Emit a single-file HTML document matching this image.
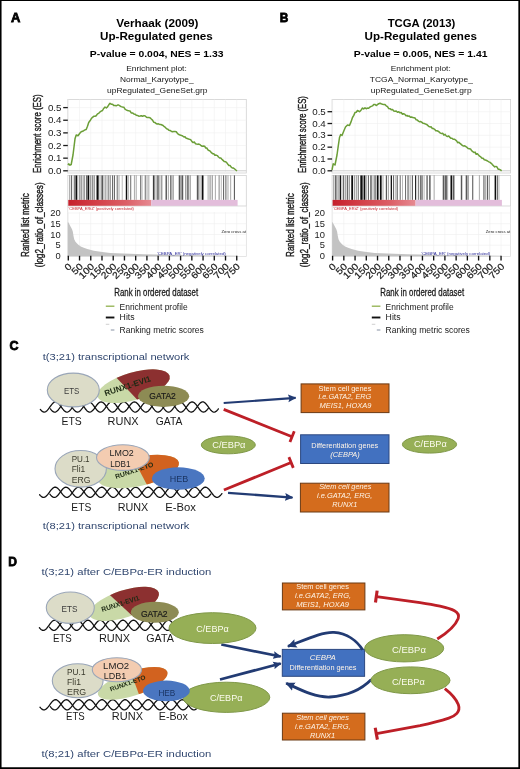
<!DOCTYPE html>
<html><head><meta charset="utf-8"><title>Figure</title>
<style>html,body{margin:0;padding:0;background:#fff}svg{display:block}text{font-family:'Liberation Sans', Arial, Helvetica, sans-serif}</style></head><body>
<svg width="520" height="769" viewBox="0 0 520 769">
<rect x="0" y="0" width="520" height="769" fill="#fff"/>
<text x="0.00" y="0.00" font-size="13.5" font-weight="bold" font-style="normal" text-anchor="start" fill="#000" transform="translate(10.90,21.70) scale(0.9642,1)" stroke="#000" stroke-width="0.8">A</text>
<text x="0.00" y="0.00" font-size="11.5" font-weight="bold" font-style="normal" text-anchor="start" fill="#000" transform="translate(116.30,26.90) scale(1.0204,1)">Verhaak (2009)</text>
<text x="0.00" y="0.00" font-size="11.5" font-weight="bold" font-style="normal" text-anchor="start" fill="#000" transform="translate(100.00,39.80) scale(1.0163,1)">Up-Regulated genes</text>
<text x="0.00" y="0.00" font-size="9.9" font-weight="bold" font-style="normal" text-anchor="start" fill="#000" transform="translate(89.80,56.80) scale(1.0487,1)">P-value = 0.004, NES = 1.33</text>
<text x="0.00" y="0.00" font-size="8.0" font-weight="normal" font-style="normal" text-anchor="start" fill="#151515" transform="translate(126.20,70.60) scale(1.0484,1)">Enrichment plot:</text>
<text x="0.00" y="0.00" font-size="8.0" font-weight="normal" font-style="normal" text-anchor="start" fill="#151515" transform="translate(120.00,81.80) scale(1.0439,1)">Normal_Karyotype_</text>
<text x="0.00" y="0.00" font-size="8.0" font-weight="normal" font-style="normal" text-anchor="start" fill="#151515" transform="translate(107.00,92.50) scale(1.0579,1)">upRegulated_GeneSet.grp</text>
<rect x="67.8" y="99.5" width="178.5" height="73.5" fill="#fff" stroke="#d2d2d2" stroke-width="0.8"/>
<path d="M67.8,158.16H246.3 M67.8,145.52H246.3 M67.8,132.88H246.3 M67.8,120.24H246.3 M67.8,107.60H246.3 M68.30,99.5V173 M79.53,99.5V173 M90.76,99.5V173 M101.99,99.5V173 M113.22,99.5V173 M124.45,99.5V173 M135.68,99.5V173 M146.91,99.5V173 M158.14,99.5V173 M169.37,99.5V173 M180.60,99.5V173 M191.83,99.5V173 M203.06,99.5V173 M214.29,99.5V173 M225.52,99.5V173 M236.75,99.5V173" stroke="#f0f0f0" stroke-width="0.6" fill="none"/>
<path d="M67.8,170.8H246.3" stroke="#c8c8c8" stroke-width="0.9" fill="none"/>
<path d="M63.199999999999996,170.80H67.8" stroke="#1a1a1a" stroke-width="1.3"/>
<text x="0.00" y="0.00" font-size="8.7" font-weight="normal" font-style="normal" text-anchor="start" fill="#1a1a1a" transform="translate(47.90,173.90) scale(1.1245,1)">0.0</text>
<path d="M63.199999999999996,158.16H67.8" stroke="#1a1a1a" stroke-width="1.3"/>
<text x="0.00" y="0.00" font-size="8.7" font-weight="normal" font-style="normal" text-anchor="start" fill="#1a1a1a" transform="translate(47.90,161.26) scale(1.1245,1)">0.1</text>
<path d="M63.199999999999996,145.52H67.8" stroke="#1a1a1a" stroke-width="1.3"/>
<text x="0.00" y="0.00" font-size="8.7" font-weight="normal" font-style="normal" text-anchor="start" fill="#1a1a1a" transform="translate(47.90,148.62) scale(1.1245,1)">0.2</text>
<path d="M63.199999999999996,132.88H67.8" stroke="#1a1a1a" stroke-width="1.3"/>
<text x="0.00" y="0.00" font-size="8.7" font-weight="normal" font-style="normal" text-anchor="start" fill="#1a1a1a" transform="translate(47.90,135.98) scale(1.1245,1)">0.3</text>
<path d="M63.199999999999996,120.24H67.8" stroke="#1a1a1a" stroke-width="1.3"/>
<text x="0.00" y="0.00" font-size="8.7" font-weight="normal" font-style="normal" text-anchor="start" fill="#1a1a1a" transform="translate(47.90,123.34) scale(1.1245,1)">0.4</text>
<path d="M63.199999999999996,107.60H67.8" stroke="#1a1a1a" stroke-width="1.3"/>
<text x="0.00" y="0.00" font-size="8.7" font-weight="normal" font-style="normal" text-anchor="start" fill="#1a1a1a" transform="translate(47.90,110.70) scale(1.1245,1)">0.5</text>
<text x="0.00" y="0.00" font-size="10.8" font-weight="normal" font-style="normal" text-anchor="start" fill="#1a1a1a" transform="translate(41.30,172.90) rotate(-90) scale(0.7235,1)" stroke="#1a1a1a" stroke-width="0.4">Enrichment score (ES)</text>
<path d="M68.0,165.0 L68.7,163.8 L70.0,165.2 L71.2,164.5 L73.0,155.0 L75.0,138.8 L76.2,135.0 L78.0,135.8 L80.0,133.0 L81.2,131.7 L82.5,131.2 L83.7,130.7 L85.0,129.9 L86.2,129.5 L87.5,126.2 L88.7,122.5 L90.0,120.8 L91.2,118.8 L92.5,117.3 L93.7,116.3 L95.0,116.2 L96.2,115.7 L97.5,113.9 L98.7,113.3 L100.0,111.9 L101.2,111.2 L102.5,110.5 L103.7,108.4 L105.0,107.0 L106.3,108.0 L107.5,106.9 L108.8,104.8 L110.0,103.3 L111.2,104.2 L112.5,104.2 L113.7,105.4 L115.0,105.5 L116.2,105.8 L117.5,105.1 L118.7,105.0 L120.0,106.0 L121.2,106.6 L122.5,107.0 L123.8,107.2 L125.0,109.1 L126.2,109.8 L127.5,110.5 L128.8,110.8 L130.0,111.0 L131.2,112.9 L132.5,112.9 L133.8,113.9 L135.0,114.2 L136.2,115.2 L137.5,115.4 L138.8,116.2 L140.0,116.0 L141.3,115.7 L142.7,116.2 L144.0,115.6 L145.2,116.0 L146.5,117.2 L147.8,117.6 L149.0,117.5 L150.2,117.9 L151.3,119.0 L152.5,120.1 L153.7,122.2 L154.8,122.4 L156.0,123.5 L157.2,124.0 L158.4,123.8 L159.6,124.4 L160.8,124.5 L162.0,125.0 L163.1,125.5 L164.3,126.7 L165.4,127.4 L166.6,128.7 L167.7,129.1 L168.9,130.3 L170.0,130.4 L171.2,131.2 L172.5,131.7 L173.8,131.6 L175.0,131.6 L176.3,131.8 L177.6,133.6 L178.8,134.5 L180.1,135.1 L181.4,135.4 L182.7,136.0 L183.9,136.9 L185.0,136.8 L186.2,138.3 L187.3,138.5 L188.5,139.0 L189.7,139.4 L190.8,139.8 L192.0,141.7 L193.1,142.6 L194.3,142.0 L195.4,143.7 L196.6,144.0 L197.8,144.2 L198.9,144.1 L200.1,144.7 L201.2,145.7 L202.3,146.2 L203.5,146.0 L204.6,146.2 L205.7,148.0 L206.8,148.0 L207.9,149.9 L209.0,150.5 L210.2,151.1 L211.4,152.7 L212.6,153.7 L213.8,153.8 L214.9,155.3 L216.1,155.1 L217.3,155.6 L218.5,157.0 L219.7,158.0 L220.8,158.0 L221.9,159.2 L223.1,160.4 L224.2,161.5 L225.4,161.7 L226.5,162.4 L227.7,164.0 L228.9,165.4 L230.0,165.4 L231.2,167.2 L232.3,168.0 L233.5,168.1 L234.7,169.0 L235.8,170.0 L237.0,170.8" stroke="#6b9e37" stroke-width="1.5" fill="none" stroke-linejoin="round"/>
<rect x="67.8" y="175.4" width="178.5" height="30.69999999999999" fill="#fff" stroke="#d2d2d2" stroke-width="0.8"/>
<rect x="69.18" y="175.4" width="1.08" height="24.50" fill="#000" opacity="0.38"/>
<rect x="70.99" y="175.4" width="0.90" height="24.50" fill="#000" opacity="0.65"/>
<rect x="72.80" y="175.4" width="0.54" height="24.50" fill="#000" opacity="0.38"/>
<rect x="74.25" y="175.4" width="0.90" height="24.50" fill="#000" opacity="0.65"/>
<rect x="75.51" y="175.4" width="1.81" height="24.50" fill="#000" opacity="0.95"/>
<rect x="78.77" y="175.4" width="1.81" height="24.50" fill="#000" opacity="0.38"/>
<rect x="80.94" y="175.4" width="1.45" height="24.50" fill="#000" opacity="0.38"/>
<rect x="83.29" y="175.4" width="1.81" height="24.50" fill="#000" opacity="0.38"/>
<rect x="86.00" y="175.4" width="0.90" height="24.50" fill="#000" opacity="0.65"/>
<rect x="87.45" y="175.4" width="1.81" height="24.50" fill="#000" opacity="0.95"/>
<rect x="89.98" y="175.4" width="1.45" height="24.50" fill="#000" opacity="0.38"/>
<rect x="92.33" y="175.4" width="0.90" height="24.50" fill="#000" opacity="0.65"/>
<rect x="93.78" y="175.4" width="1.27" height="24.50" fill="#000" opacity="0.38"/>
<rect x="96.49" y="175.4" width="2.17" height="24.50" fill="#000" opacity="0.95"/>
<rect x="99.56" y="175.4" width="0.90" height="24.50" fill="#000" opacity="0.38"/>
<rect x="101.37" y="175.4" width="1.81" height="24.50" fill="#000" opacity="0.65"/>
<rect x="103.72" y="175.4" width="0.72" height="24.50" fill="#000" opacity="0.38"/>
<rect x="105.53" y="175.4" width="0.72" height="24.50" fill="#000" opacity="0.65"/>
<rect x="107.70" y="175.4" width="0.90" height="24.50" fill="#000" opacity="0.65"/>
<rect x="109.51" y="175.4" width="1.45" height="24.50" fill="#000" opacity="0.38"/>
<rect x="112.40" y="175.4" width="0.72" height="24.50" fill="#000" opacity="0.95"/>
<rect x="114.03" y="175.4" width="0.90" height="24.50" fill="#000" opacity="0.65"/>
<rect x="116.74" y="175.4" width="0.90" height="24.50" fill="#000" opacity="0.65"/>
<rect x="118.55" y="175.4" width="0.90" height="24.50" fill="#000" opacity="0.38"/>
<rect x="121.80" y="175.4" width="0.72" height="24.50" fill="#000" opacity="0.38"/>
<rect x="125.78" y="175.4" width="1.45" height="24.50" fill="#000" opacity="0.95"/>
<rect x="127.95" y="175.4" width="0.72" height="24.50" fill="#000" opacity="0.38"/>
<rect x="130.30" y="175.4" width="0.90" height="24.50" fill="#000" opacity="0.65"/>
<rect x="133.92" y="175.4" width="0.90" height="24.50" fill="#000" opacity="0.38"/>
<rect x="135.73" y="175.4" width="0.90" height="24.50" fill="#000" opacity="0.38"/>
<rect x="140.25" y="175.4" width="0.90" height="24.50" fill="#000" opacity="0.65"/>
<rect x="141.70" y="175.4" width="0.72" height="24.50" fill="#000" opacity="0.38"/>
<rect x="144.77" y="175.4" width="0.90" height="24.50" fill="#000" opacity="0.65"/>
<rect x="146.58" y="175.4" width="0.90" height="24.50" fill="#000" opacity="0.38"/>
<rect x="148.39" y="175.4" width="0.90" height="24.50" fill="#000" opacity="0.38"/>
<rect x="152.91" y="175.4" width="0.90" height="24.50" fill="#000" opacity="0.95"/>
<rect x="154.35" y="175.4" width="0.90" height="24.50" fill="#000" opacity="0.65"/>
<rect x="156.89" y="175.4" width="1.08" height="24.50" fill="#000" opacity="0.38"/>
<rect x="156.47" y="175.4" width="1.08" height="24.50" fill="#000" opacity="0.38"/>
<rect x="158.28" y="175.4" width="1.08" height="24.50" fill="#000" opacity="0.65"/>
<rect x="160.63" y="175.4" width="1.81" height="24.50" fill="#000" opacity="0.38"/>
<rect x="165.51" y="175.4" width="1.45" height="24.50" fill="#000" opacity="0.65"/>
<rect x="167.86" y="175.4" width="0.90" height="24.50" fill="#000" opacity="0.38"/>
<rect x="170.21" y="175.4" width="1.27" height="24.50" fill="#000" opacity="0.65"/>
<rect x="172.38" y="175.4" width="1.45" height="24.50" fill="#000" opacity="0.38"/>
<rect x="178.71" y="175.4" width="1.81" height="24.50" fill="#000" opacity="0.65"/>
<rect x="181.42" y="175.4" width="1.81" height="24.50" fill="#000" opacity="0.65"/>
<rect x="185.04" y="175.4" width="1.45" height="24.50" fill="#000" opacity="0.38"/>
<rect x="187.21" y="175.4" width="1.45" height="24.50" fill="#000" opacity="0.65"/>
<rect x="189.56" y="175.4" width="1.27" height="24.50" fill="#000" opacity="0.38"/>
<rect x="196.80" y="175.4" width="1.81" height="24.50" fill="#000" opacity="0.65"/>
<rect x="199.51" y="175.4" width="0.90" height="24.50" fill="#000" opacity="0.38"/>
<rect x="201.68" y="175.4" width="1.81" height="24.50" fill="#000" opacity="0.95"/>
<rect x="207.65" y="175.4" width="0.90" height="24.50" fill="#000" opacity="0.38"/>
<rect x="209.45" y="175.4" width="1.27" height="24.50" fill="#000" opacity="0.38"/>
<rect x="211.80" y="175.4" width="0.72" height="24.50" fill="#000" opacity="0.65"/>
<rect x="214.88" y="175.4" width="0.90" height="24.50" fill="#000" opacity="0.38"/>
<rect x="218.50" y="175.4" width="1.27" height="24.50" fill="#000" opacity="0.38"/>
<rect x="220.85" y="175.4" width="0.72" height="24.50" fill="#000" opacity="0.38"/>
<rect x="223.02" y="175.4" width="0.90" height="24.50" fill="#000" opacity="0.65"/>
<rect x="224.82" y="175.4" width="1.81" height="24.50" fill="#000" opacity="0.38"/>
<rect x="227.54" y="175.4" width="0.90" height="24.50" fill="#000" opacity="0.38"/>
<rect x="230.25" y="175.4" width="0.90" height="24.50" fill="#000" opacity="0.38"/>
<rect x="233.87" y="175.4" width="1.08" height="24.50" fill="#000" opacity="0.65"/>
<defs><linearGradient id="rgA" x1="0" x2="1" y1="0" y2="0"><stop offset="0" stop-color="#c51f2b"/><stop offset="0.3" stop-color="#d23c45"/><stop offset="0.7" stop-color="#dc5f67"/><stop offset="1" stop-color="#e68a92"/></linearGradient></defs>
<rect x="68.3" y="199.9" width="83" height="6.2" fill="url(#rgA)"/>
<rect x="151.3" y="199.9" width="86.3" height="6.2" fill="#e3bddb"/>
<rect x="67.8" y="206.1" width="178.5" height="50.50000000000003" fill="#fff" stroke="#dadada" stroke-width="0.7"/>
<path d="M67.8,245.25H246.3 M67.8,234.50H246.3 M67.8,223.75H246.3 M67.8,213.00H246.3 M68.30,212.1V256.6 M79.53,212.1V256.6 M90.76,212.1V256.6 M101.99,212.1V256.6 M113.22,212.1V256.6 M124.45,212.1V256.6 M135.68,212.1V256.6 M146.91,212.1V256.6 M158.14,212.1V256.6 M169.37,212.1V256.6 M180.60,212.1V256.6 M191.83,212.1V256.6 M203.06,212.1V256.6 M214.29,212.1V256.6 M225.52,212.1V256.6 M236.75,212.1V256.6" stroke="#eeeeee" stroke-width="0.6" fill="none"/>
<text x="0.00" y="0.00" font-size="3.9" font-weight="normal" font-style="normal" text-anchor="start" fill="#c4202a" transform="translate(68.60,210.40) scale(1.028,1)">'CEBPA_ERtZ' (positively correlated)</text>
<path d="M67.8,256.3 L67.8,222.2 L68.3,222.2 L69.5,224.5 L70.8,226.9 L71.9,229.0 L72.8,231.5 L73.5,236.0 L74.2,239.3 L75.3,241.4 L76.8,243.2 L78.3,244.8 L80.8,246.5 L83.8,247.8 L87.3,249.1 L93.8,250.8 L102.3,252.1 L110.3,252.9 L123.3,253.6 L143.3,254.3 L168.3,254.8 L198.3,255.3 L236.8,255.8 L236.8,256.3 Z" fill="#c3c3c3"/>
<text x="0.00" y="0.00" font-size="8.7" font-weight="normal" font-style="normal" text-anchor="start" fill="#1a1a1a" transform="translate(55.50,259.10) scale(1.0747,1)">0</text>
<text x="0.00" y="0.00" font-size="8.7" font-weight="normal" font-style="normal" text-anchor="start" fill="#1a1a1a" transform="translate(55.50,248.35) scale(1.0747,1)">5</text>
<text x="0.00" y="0.00" font-size="8.7" font-weight="normal" font-style="normal" text-anchor="start" fill="#1a1a1a" transform="translate(50.30,237.60) scale(1.0747,1)">10</text>
<text x="0.00" y="0.00" font-size="8.7" font-weight="normal" font-style="normal" text-anchor="start" fill="#1a1a1a" transform="translate(50.30,226.85) scale(1.0747,1)">15</text>
<text x="0.00" y="0.00" font-size="8.7" font-weight="normal" font-style="normal" text-anchor="start" fill="#1a1a1a" transform="translate(50.30,216.10) scale(1.0747,1)">20</text>
<text x="0.00" y="0.00" font-size="3.7" font-weight="normal" font-style="normal" text-anchor="start" fill="#222" transform="translate(221.50,232.60) scale(1.1348,1)">Zero cross at</text>
<text x="0.00" y="0.00" font-size="3.9" font-weight="normal" font-style="normal" text-anchor="start" fill="#2a2a9a" transform="translate(157.00,255.20) scale(1.1187,1)">'CEBPA_ER' (negatively correlated)</text>
<path d="M68.30,255.8V260.5" stroke="#111" stroke-width="1.35"/>
<text x="0.00" y="0.00" font-size="9.3" font-weight="normal" font-style="normal" text-anchor="end" fill="#1a1a1a" transform="translate(72.30,267.00) rotate(-45) scale(1.13,1)" stroke="#1a1a1a" stroke-width="0.2">0</text>
<path d="M79.53,255.8V260.5" stroke="#111" stroke-width="1.35"/>
<text x="0.00" y="0.00" font-size="9.3" font-weight="normal" font-style="normal" text-anchor="end" fill="#1a1a1a" transform="translate(83.53,267.00) rotate(-45) scale(1.13,1)" stroke="#1a1a1a" stroke-width="0.2">50</text>
<path d="M90.76,255.8V260.5" stroke="#111" stroke-width="1.35"/>
<text x="0.00" y="0.00" font-size="9.3" font-weight="normal" font-style="normal" text-anchor="end" fill="#1a1a1a" transform="translate(94.76,267.00) rotate(-45) scale(1.13,1)" stroke="#1a1a1a" stroke-width="0.2">100</text>
<path d="M101.99,255.8V260.5" stroke="#111" stroke-width="1.35"/>
<text x="0.00" y="0.00" font-size="9.3" font-weight="normal" font-style="normal" text-anchor="end" fill="#1a1a1a" transform="translate(105.99,267.00) rotate(-45) scale(1.13,1)" stroke="#1a1a1a" stroke-width="0.2">150</text>
<path d="M113.22,255.8V260.5" stroke="#111" stroke-width="1.35"/>
<text x="0.00" y="0.00" font-size="9.3" font-weight="normal" font-style="normal" text-anchor="end" fill="#1a1a1a" transform="translate(117.22,267.00) rotate(-45) scale(1.13,1)" stroke="#1a1a1a" stroke-width="0.2">200</text>
<path d="M124.45,255.8V260.5" stroke="#111" stroke-width="1.35"/>
<text x="0.00" y="0.00" font-size="9.3" font-weight="normal" font-style="normal" text-anchor="end" fill="#1a1a1a" transform="translate(128.45,267.00) rotate(-45) scale(1.13,1)" stroke="#1a1a1a" stroke-width="0.2">250</text>
<path d="M135.68,255.8V260.5" stroke="#111" stroke-width="1.35"/>
<text x="0.00" y="0.00" font-size="9.3" font-weight="normal" font-style="normal" text-anchor="end" fill="#1a1a1a" transform="translate(139.68,267.00) rotate(-45) scale(1.13,1)" stroke="#1a1a1a" stroke-width="0.2">300</text>
<path d="M146.91,255.8V260.5" stroke="#111" stroke-width="1.35"/>
<text x="0.00" y="0.00" font-size="9.3" font-weight="normal" font-style="normal" text-anchor="end" fill="#1a1a1a" transform="translate(150.91,267.00) rotate(-45) scale(1.13,1)" stroke="#1a1a1a" stroke-width="0.2">350</text>
<path d="M158.14,255.8V260.5" stroke="#111" stroke-width="1.35"/>
<text x="0.00" y="0.00" font-size="9.3" font-weight="normal" font-style="normal" text-anchor="end" fill="#1a1a1a" transform="translate(162.14,267.00) rotate(-45) scale(1.13,1)" stroke="#1a1a1a" stroke-width="0.2">400</text>
<path d="M169.37,255.8V260.5" stroke="#111" stroke-width="1.35"/>
<text x="0.00" y="0.00" font-size="9.3" font-weight="normal" font-style="normal" text-anchor="end" fill="#1a1a1a" transform="translate(173.37,267.00) rotate(-45) scale(1.13,1)" stroke="#1a1a1a" stroke-width="0.2">450</text>
<path d="M180.60,255.8V260.5" stroke="#111" stroke-width="1.35"/>
<text x="0.00" y="0.00" font-size="9.3" font-weight="normal" font-style="normal" text-anchor="end" fill="#1a1a1a" transform="translate(184.60,267.00) rotate(-45) scale(1.13,1)" stroke="#1a1a1a" stroke-width="0.2">500</text>
<path d="M191.83,255.8V260.5" stroke="#111" stroke-width="1.35"/>
<text x="0.00" y="0.00" font-size="9.3" font-weight="normal" font-style="normal" text-anchor="end" fill="#1a1a1a" transform="translate(195.83,267.00) rotate(-45) scale(1.13,1)" stroke="#1a1a1a" stroke-width="0.2">550</text>
<path d="M203.06,255.8V260.5" stroke="#111" stroke-width="1.35"/>
<text x="0.00" y="0.00" font-size="9.3" font-weight="normal" font-style="normal" text-anchor="end" fill="#1a1a1a" transform="translate(207.06,267.00) rotate(-45) scale(1.13,1)" stroke="#1a1a1a" stroke-width="0.2">600</text>
<path d="M214.29,255.8V260.5" stroke="#111" stroke-width="1.35"/>
<text x="0.00" y="0.00" font-size="9.3" font-weight="normal" font-style="normal" text-anchor="end" fill="#1a1a1a" transform="translate(218.29,267.00) rotate(-45) scale(1.13,1)" stroke="#1a1a1a" stroke-width="0.2">650</text>
<path d="M225.52,255.8V260.5" stroke="#111" stroke-width="1.35"/>
<text x="0.00" y="0.00" font-size="9.3" font-weight="normal" font-style="normal" text-anchor="end" fill="#1a1a1a" transform="translate(229.52,267.00) rotate(-45) scale(1.13,1)" stroke="#1a1a1a" stroke-width="0.2">700</text>
<path d="M236.75,255.8V260.5" stroke="#111" stroke-width="1.35"/>
<text x="0.00" y="0.00" font-size="9.3" font-weight="normal" font-style="normal" text-anchor="end" fill="#1a1a1a" transform="translate(240.75,267.00) rotate(-45) scale(1.13,1)" stroke="#1a1a1a" stroke-width="0.2">750</text>
<text x="0.00" y="0.00" font-size="10.6" font-weight="normal" font-style="normal" text-anchor="start" fill="#1a1a1a" transform="translate(29.40,256.90) rotate(-90) scale(0.7562,1)" stroke="#1a1a1a" stroke-width="0.4">Ranked list metric</text>
<text x="0.00" y="0.00" font-size="10.6" font-weight="normal" font-style="normal" text-anchor="start" fill="#1a1a1a" transform="translate(43.30,267.30) rotate(-90) scale(0.7765,1)" stroke="#1a1a1a" stroke-width="0.4">(log2_ratio_of_classes)</text>
<text x="0.00" y="0.00" font-size="10.4" font-weight="normal" font-style="normal" text-anchor="start" fill="#1a1a1a" transform="translate(114.30,295.70) scale(0.7558,1)" stroke="#1a1a1a" stroke-width="0.28">Rank in ordered dataset</text>
<path d="M105.8,306.2h8.6" stroke="#90b04c" stroke-width="1.3"/>
<text x="0.00" y="0.00" font-size="8.6" font-weight="normal" font-style="normal" text-anchor="start" fill="#1a1a1a" transform="translate(119.60,309.50) scale(0.984,1)">Enrichment profile</text>
<path d="M105.8,317.5h8.6" stroke="#111" stroke-width="1.9"/>
<text x="0.00" y="0.00" font-size="8.6" font-weight="normal" font-style="normal" text-anchor="start" fill="#1a1a1a" transform="translate(119.60,319.90) scale(1.0128,1)">Hits</text>
<path d="M105.8,324.3h3.5" stroke="#c4c4c4" stroke-width="0.8"/>
<path d="M110.8,330.0h3.6" stroke="#8792a4" stroke-width="1.0"/>
<text x="0.00" y="0.00" font-size="8.6" font-weight="normal" font-style="normal" text-anchor="start" fill="#1a1a1a" transform="translate(119.60,333.00) scale(0.9921,1)">Ranking metric scores</text>
<text x="0.00" y="0.00" font-size="13.5" font-weight="bold" font-style="normal" text-anchor="start" fill="#000" transform="translate(279.80,21.70) scale(0.8821,1)" stroke="#000" stroke-width="0.8">B</text>
<text x="0.00" y="0.00" font-size="11.5" font-weight="bold" font-style="normal" text-anchor="start" fill="#000" transform="translate(387.70,26.90) scale(0.987,1)">TCGA (2013)</text>
<text x="0.00" y="0.00" font-size="11.5" font-weight="bold" font-style="normal" text-anchor="start" fill="#000" transform="translate(364.60,39.80) scale(1.011,1)">Up-Regulated genes</text>
<text x="0.00" y="0.00" font-size="9.9" font-weight="bold" font-style="normal" text-anchor="start" fill="#000" transform="translate(353.80,56.80) scale(1.0487,1)">P-value = 0.005, NES = 1.41</text>
<text x="0.00" y="0.00" font-size="8.0" font-weight="normal" font-style="normal" text-anchor="start" fill="#151515" transform="translate(390.80,70.60) scale(1.038,1)">Enrichment plot:</text>
<text x="0.00" y="0.00" font-size="8.0" font-weight="normal" font-style="normal" text-anchor="start" fill="#151515" transform="translate(369.80,81.80) scale(1.0599,1)">TCGA_Normal_Karyotype_</text>
<text x="0.00" y="0.00" font-size="8.0" font-weight="normal" font-style="normal" text-anchor="start" fill="#151515" transform="translate(370.80,92.50) scale(1.0601,1)">upRegulated_GeneSet.grp</text>
<rect x="332.1" y="99.5" width="178.5" height="73.5" fill="#fff" stroke="#d2d2d2" stroke-width="0.8"/>
<path d="M332.1,158.98H510.6 M332.1,147.16H510.6 M332.1,135.34H510.6 M332.1,123.52H510.6 M332.1,111.70H510.6 M332.60,99.5V173 M343.83,99.5V173 M355.06,99.5V173 M366.29,99.5V173 M377.52,99.5V173 M388.75,99.5V173 M399.98,99.5V173 M411.21,99.5V173 M422.44,99.5V173 M433.67,99.5V173 M444.90,99.5V173 M456.13,99.5V173 M467.36,99.5V173 M478.59,99.5V173 M489.82,99.5V173 M501.05,99.5V173" stroke="#f0f0f0" stroke-width="0.6" fill="none"/>
<path d="M332.1,170.8H510.6" stroke="#c8c8c8" stroke-width="0.9" fill="none"/>
<path d="M327.5,170.80H332.1" stroke="#1a1a1a" stroke-width="1.3"/>
<text x="0.00" y="0.00" font-size="8.7" font-weight="normal" font-style="normal" text-anchor="start" fill="#1a1a1a" transform="translate(312.20,173.90) scale(1.1245,1)">0.0</text>
<path d="M327.5,158.98H332.1" stroke="#1a1a1a" stroke-width="1.3"/>
<text x="0.00" y="0.00" font-size="8.7" font-weight="normal" font-style="normal" text-anchor="start" fill="#1a1a1a" transform="translate(312.20,162.08) scale(1.1245,1)">0.1</text>
<path d="M327.5,147.16H332.1" stroke="#1a1a1a" stroke-width="1.3"/>
<text x="0.00" y="0.00" font-size="8.7" font-weight="normal" font-style="normal" text-anchor="start" fill="#1a1a1a" transform="translate(312.20,150.26) scale(1.1245,1)">0.2</text>
<path d="M327.5,135.34H332.1" stroke="#1a1a1a" stroke-width="1.3"/>
<text x="0.00" y="0.00" font-size="8.7" font-weight="normal" font-style="normal" text-anchor="start" fill="#1a1a1a" transform="translate(312.20,138.44) scale(1.1245,1)">0.3</text>
<path d="M327.5,123.52H332.1" stroke="#1a1a1a" stroke-width="1.3"/>
<text x="0.00" y="0.00" font-size="8.7" font-weight="normal" font-style="normal" text-anchor="start" fill="#1a1a1a" transform="translate(312.20,126.62) scale(1.1245,1)">0.4</text>
<path d="M327.5,111.70H332.1" stroke="#1a1a1a" stroke-width="1.3"/>
<text x="0.00" y="0.00" font-size="8.7" font-weight="normal" font-style="normal" text-anchor="start" fill="#1a1a1a" transform="translate(312.20,114.80) scale(1.1245,1)">0.5</text>
<text x="0.00" y="0.00" font-size="10.8" font-weight="normal" font-style="normal" text-anchor="start" fill="#1a1a1a" transform="translate(305.60,172.90) rotate(-90) scale(0.707,1)" stroke="#1a1a1a" stroke-width="0.4">Enrichment score (ES)</text>
<path d="M332.0,170.0 L333.2,163.8 L335.0,165.0 L337.0,155.0 L338.2,146.4 L339.5,137.5 L340.7,134.5 L342.0,135.5 L343.7,131.2 L345.5,127.0 L347.5,125.0 L349.5,125.5 L351.0,121.9 L352.5,117.5 L353.8,115.4 L355.0,112.5 L356.2,112.2 L357.5,110.5 L359.5,111.7 L361.0,110.2 L362.5,108.0 L363.7,108.9 L365.0,107.8 L366.2,108.7 L367.5,108.1 L368.7,108.2 L370.0,107.0 L371.2,106.4 L372.5,105.9 L373.7,104.5 L374.9,104.4 L376.2,105.5 L377.5,104.7 L378.7,103.7 L380.0,103.3 L381.2,103.8 L382.5,104.2 L383.7,104.5 L385.0,104.6 L386.2,105.8 L387.5,106.7 L388.7,108.5 L390.0,108.7 L391.2,109.7 L392.5,109.4 L393.8,111.0 L395.0,111.2 L396.2,111.1 L397.5,112.2 L398.8,111.8 L400.0,112.8 L401.2,112.5 L402.3,114.2 L403.5,113.7 L404.7,114.1 L405.8,115.7 L407.0,115.4 L408.1,116.3 L409.3,115.9 L410.4,117.2 L411.6,117.0 L412.8,117.6 L413.9,117.7 L415.0,118.0 L416.2,119.8 L417.4,120.1 L418.5,121.2 L419.6,121.8 L420.8,121.6 L422.0,122.4 L423.1,123.3 L424.2,123.4 L425.4,124.0 L426.6,124.4 L427.7,125.4 L428.9,126.5 L430.0,126.9 L431.2,126.8 L432.3,128.5 L433.5,128.6 L434.6,129.3 L435.8,130.7 L437.0,130.8 L438.1,131.2 L439.3,132.2 L440.4,133.1 L441.6,133.5 L442.8,133.3 L443.9,135.2 L445.1,134.3 L446.2,135.9 L447.4,136.6 L448.5,135.9 L449.7,137.1 L450.8,138.2 L452.0,138.3 L453.1,139.3 L454.3,139.2 L455.4,139.9 L456.6,140.8 L457.7,142.7 L458.9,142.2 L460.0,143.4 L461.2,144.4 L462.3,145.4 L463.5,146.1 L464.6,145.8 L465.8,146.5 L467.0,147.4 L468.1,148.5 L469.3,148.7 L470.5,148.9 L471.6,150.7 L472.8,151.6 L473.9,152.5 L475.1,152.1 L476.2,154.3 L477.4,153.8 L478.5,155.0 L479.6,156.2 L480.8,156.9 L482.0,158.3 L483.1,158.2 L484.3,159.8 L485.4,160.0 L486.6,160.5 L487.8,161.2 L488.9,161.8 L490.1,162.4 L491.2,163.3 L492.4,164.6 L493.5,165.7 L494.7,166.9 L495.9,166.4 L497.0,167.0 L498.1,169.2 L499.3,169.3 L500.5,169.9 L501.6,170.8" stroke="#6b9e37" stroke-width="1.5" fill="none" stroke-linejoin="round"/>
<rect x="332.1" y="175.4" width="178.5" height="30.69999999999999" fill="#fff" stroke="#d2d2d2" stroke-width="0.8"/>
<rect x="333.18" y="175.4" width="0.90" height="24.50" fill="#000" opacity="0.38"/>
<rect x="334.81" y="175.4" width="1.08" height="24.50" fill="#000" opacity="0.65"/>
<rect x="336.44" y="175.4" width="0.90" height="24.50" fill="#000" opacity="0.65"/>
<rect x="338.25" y="175.4" width="0.90" height="24.50" fill="#000" opacity="0.38"/>
<rect x="339.69" y="175.4" width="1.27" height="24.50" fill="#000" opacity="0.95"/>
<rect x="341.50" y="175.4" width="0.90" height="24.50" fill="#000" opacity="0.38"/>
<rect x="343.13" y="175.4" width="1.08" height="24.50" fill="#000" opacity="0.65"/>
<rect x="345.12" y="175.4" width="1.27" height="24.50" fill="#000" opacity="0.38"/>
<rect x="347.11" y="175.4" width="1.08" height="24.50" fill="#000" opacity="0.65"/>
<rect x="348.91" y="175.4" width="1.08" height="24.50" fill="#000" opacity="0.38"/>
<rect x="351.27" y="175.4" width="1.81" height="24.50" fill="#000" opacity="0.95"/>
<rect x="353.98" y="175.4" width="1.08" height="24.50" fill="#000" opacity="0.38"/>
<rect x="355.79" y="175.4" width="1.08" height="24.50" fill="#000" opacity="0.38"/>
<rect x="357.78" y="175.4" width="0.90" height="24.50" fill="#000" opacity="0.65"/>
<rect x="360.31" y="175.4" width="2.35" height="24.50" fill="#000" opacity="0.95"/>
<rect x="363.56" y="175.4" width="1.81" height="24.50" fill="#000" opacity="0.95"/>
<rect x="366.27" y="175.4" width="0.90" height="24.50" fill="#000" opacity="0.38"/>
<rect x="368.08" y="175.4" width="0.90" height="24.50" fill="#000" opacity="0.65"/>
<rect x="370.25" y="175.4" width="1.45" height="24.50" fill="#000" opacity="0.65"/>
<rect x="372.60" y="175.4" width="0.90" height="24.50" fill="#000" opacity="0.38"/>
<rect x="374.41" y="175.4" width="1.27" height="24.50" fill="#000" opacity="0.65"/>
<rect x="376.76" y="175.4" width="1.81" height="24.50" fill="#000" opacity="0.95"/>
<rect x="379.84" y="175.4" width="1.81" height="24.50" fill="#000" opacity="0.95"/>
<rect x="382.55" y="175.4" width="0.90" height="24.50" fill="#000" opacity="0.38"/>
<rect x="385.80" y="175.4" width="1.27" height="24.50" fill="#000" opacity="0.65"/>
<rect x="387.97" y="175.4" width="0.90" height="24.50" fill="#000" opacity="0.38"/>
<rect x="390.69" y="175.4" width="1.27" height="24.50" fill="#000" opacity="0.95"/>
<rect x="393.04" y="175.4" width="0.90" height="24.50" fill="#000" opacity="0.65"/>
<rect x="394.85" y="175.4" width="0.72" height="24.50" fill="#000" opacity="0.38"/>
<rect x="396.65" y="175.4" width="1.08" height="24.50" fill="#000" opacity="0.65"/>
<rect x="399.73" y="175.4" width="0.90" height="24.50" fill="#000" opacity="0.65"/>
<rect x="402.08" y="175.4" width="0.72" height="24.50" fill="#000" opacity="0.38"/>
<rect x="405.15" y="175.4" width="0.90" height="24.50" fill="#000" opacity="0.65"/>
<rect x="407.50" y="175.4" width="1.08" height="24.50" fill="#000" opacity="0.65"/>
<rect x="409.67" y="175.4" width="0.90" height="24.50" fill="#000" opacity="0.38"/>
<rect x="411.84" y="175.4" width="1.08" height="24.50" fill="#000" opacity="0.65"/>
<rect x="415.10" y="175.4" width="1.08" height="24.50" fill="#000" opacity="0.95"/>
<rect x="417.81" y="175.4" width="0.90" height="24.50" fill="#000" opacity="0.38"/>
<rect x="420.16" y="175.4" width="1.08" height="24.50" fill="#000" opacity="0.65"/>
<rect x="418.30" y="175.4" width="0.90" height="24.50" fill="#000" opacity="0.38"/>
<rect x="421.55" y="175.4" width="1.08" height="24.50" fill="#000" opacity="0.65"/>
<rect x="423.72" y="175.4" width="0.72" height="24.50" fill="#000" opacity="0.38"/>
<rect x="426.44" y="175.4" width="1.27" height="24.50" fill="#000" opacity="0.65"/>
<rect x="429.15" y="175.4" width="1.45" height="24.50" fill="#000" opacity="0.65"/>
<rect x="433.67" y="175.4" width="0.90" height="24.50" fill="#000" opacity="0.38"/>
<rect x="442.71" y="175.4" width="1.81" height="24.50" fill="#000" opacity="0.65"/>
<rect x="445.06" y="175.4" width="1.81" height="24.50" fill="#000" opacity="0.65"/>
<rect x="447.23" y="175.4" width="0.90" height="24.50" fill="#000" opacity="0.38"/>
<rect x="450.49" y="175.4" width="1.81" height="24.50" fill="#000" opacity="0.95"/>
<rect x="453.02" y="175.4" width="1.45" height="24.50" fill="#000" opacity="0.65"/>
<rect x="460.80" y="175.4" width="1.45" height="24.50" fill="#000" opacity="0.65"/>
<rect x="465.68" y="175.4" width="1.81" height="24.50" fill="#000" opacity="0.65"/>
<rect x="468.03" y="175.4" width="0.90" height="24.50" fill="#000" opacity="0.38"/>
<rect x="472.19" y="175.4" width="1.08" height="24.50" fill="#000" opacity="0.65"/>
<rect x="478.88" y="175.4" width="0.90" height="24.50" fill="#000" opacity="0.38"/>
<rect x="483.40" y="175.4" width="1.08" height="24.50" fill="#000" opacity="0.65"/>
<rect x="485.21" y="175.4" width="1.08" height="24.50" fill="#000" opacity="0.38"/>
<rect x="487.02" y="175.4" width="1.08" height="24.50" fill="#000" opacity="0.65"/>
<rect x="488.82" y="175.4" width="1.08" height="24.50" fill="#000" opacity="0.38"/>
<rect x="494.61" y="175.4" width="1.45" height="24.50" fill="#000" opacity="0.95"/>
<rect x="496.78" y="175.4" width="1.08" height="24.50" fill="#000" opacity="0.65"/>
<rect x="498.59" y="175.4" width="0.72" height="24.50" fill="#000" opacity="0.38"/>
<defs><linearGradient id="rgB" x1="0" x2="1" y1="0" y2="0"><stop offset="0" stop-color="#c51f2b"/><stop offset="0.3" stop-color="#d23c45"/><stop offset="0.7" stop-color="#dc5f67"/><stop offset="1" stop-color="#e68a92"/></linearGradient></defs>
<rect x="332.6" y="199.9" width="83" height="6.2" fill="url(#rgB)"/>
<rect x="415.6" y="199.9" width="86.3" height="6.2" fill="#e3bddb"/>
<rect x="332.1" y="206.1" width="178.5" height="50.50000000000003" fill="#fff" stroke="#dadada" stroke-width="0.7"/>
<path d="M332.1,245.25H510.6 M332.1,234.50H510.6 M332.1,223.75H510.6 M332.1,213.00H510.6 M332.60,212.1V256.6 M343.83,212.1V256.6 M355.06,212.1V256.6 M366.29,212.1V256.6 M377.52,212.1V256.6 M388.75,212.1V256.6 M399.98,212.1V256.6 M411.21,212.1V256.6 M422.44,212.1V256.6 M433.67,212.1V256.6 M444.90,212.1V256.6 M456.13,212.1V256.6 M467.36,212.1V256.6 M478.59,212.1V256.6 M489.82,212.1V256.6 M501.05,212.1V256.6" stroke="#eeeeee" stroke-width="0.6" fill="none"/>
<text x="0.00" y="0.00" font-size="3.9" font-weight="normal" font-style="normal" text-anchor="start" fill="#c4202a" transform="translate(332.90,210.40) scale(1.028,1)">'CEBPA_ERtZ' (positively correlated)</text>
<path d="M332.1,256.3 L332.1,222.2 L332.6,222.2 L333.8,224.5 L335.1,226.9 L336.2,229.0 L337.1,231.5 L337.8,236.0 L338.5,239.3 L339.6,241.4 L341.1,243.2 L342.6,244.8 L345.1,246.5 L348.1,247.8 L351.6,249.1 L358.1,250.8 L366.6,252.1 L374.6,252.9 L387.6,253.6 L407.6,254.3 L432.6,254.8 L462.6,255.3 L501.1,255.8 L501.1,256.3 Z" fill="#c3c3c3"/>
<text x="0.00" y="0.00" font-size="8.7" font-weight="normal" font-style="normal" text-anchor="start" fill="#1a1a1a" transform="translate(319.80,259.10) scale(1.0747,1)">0</text>
<text x="0.00" y="0.00" font-size="8.7" font-weight="normal" font-style="normal" text-anchor="start" fill="#1a1a1a" transform="translate(319.80,248.35) scale(1.0747,1)">5</text>
<text x="0.00" y="0.00" font-size="8.7" font-weight="normal" font-style="normal" text-anchor="start" fill="#1a1a1a" transform="translate(314.60,237.60) scale(1.0747,1)">10</text>
<text x="0.00" y="0.00" font-size="8.7" font-weight="normal" font-style="normal" text-anchor="start" fill="#1a1a1a" transform="translate(314.60,226.85) scale(1.0747,1)">15</text>
<text x="0.00" y="0.00" font-size="8.7" font-weight="normal" font-style="normal" text-anchor="start" fill="#1a1a1a" transform="translate(314.60,216.10) scale(1.0747,1)">20</text>
<text x="0.00" y="0.00" font-size="3.7" font-weight="normal" font-style="normal" text-anchor="start" fill="#222" transform="translate(485.80,232.60) scale(1.1348,1)">Zero cross at</text>
<text x="0.00" y="0.00" font-size="3.9" font-weight="normal" font-style="normal" text-anchor="start" fill="#2a2a9a" transform="translate(421.30,255.20) scale(1.1187,1)">'CEBPA_ER' (negatively correlated)</text>
<path d="M332.60,255.8V260.5" stroke="#111" stroke-width="1.35"/>
<text x="0.00" y="0.00" font-size="9.3" font-weight="normal" font-style="normal" text-anchor="end" fill="#1a1a1a" transform="translate(336.60,267.00) rotate(-45) scale(1.13,1)" stroke="#1a1a1a" stroke-width="0.2">0</text>
<path d="M343.83,255.8V260.5" stroke="#111" stroke-width="1.35"/>
<text x="0.00" y="0.00" font-size="9.3" font-weight="normal" font-style="normal" text-anchor="end" fill="#1a1a1a" transform="translate(347.83,267.00) rotate(-45) scale(1.13,1)" stroke="#1a1a1a" stroke-width="0.2">50</text>
<path d="M355.06,255.8V260.5" stroke="#111" stroke-width="1.35"/>
<text x="0.00" y="0.00" font-size="9.3" font-weight="normal" font-style="normal" text-anchor="end" fill="#1a1a1a" transform="translate(359.06,267.00) rotate(-45) scale(1.13,1)" stroke="#1a1a1a" stroke-width="0.2">100</text>
<path d="M366.29,255.8V260.5" stroke="#111" stroke-width="1.35"/>
<text x="0.00" y="0.00" font-size="9.3" font-weight="normal" font-style="normal" text-anchor="end" fill="#1a1a1a" transform="translate(370.29,267.00) rotate(-45) scale(1.13,1)" stroke="#1a1a1a" stroke-width="0.2">150</text>
<path d="M377.52,255.8V260.5" stroke="#111" stroke-width="1.35"/>
<text x="0.00" y="0.00" font-size="9.3" font-weight="normal" font-style="normal" text-anchor="end" fill="#1a1a1a" transform="translate(381.52,267.00) rotate(-45) scale(1.13,1)" stroke="#1a1a1a" stroke-width="0.2">200</text>
<path d="M388.75,255.8V260.5" stroke="#111" stroke-width="1.35"/>
<text x="0.00" y="0.00" font-size="9.3" font-weight="normal" font-style="normal" text-anchor="end" fill="#1a1a1a" transform="translate(392.75,267.00) rotate(-45) scale(1.13,1)" stroke="#1a1a1a" stroke-width="0.2">250</text>
<path d="M399.98,255.8V260.5" stroke="#111" stroke-width="1.35"/>
<text x="0.00" y="0.00" font-size="9.3" font-weight="normal" font-style="normal" text-anchor="end" fill="#1a1a1a" transform="translate(403.98,267.00) rotate(-45) scale(1.13,1)" stroke="#1a1a1a" stroke-width="0.2">300</text>
<path d="M411.21,255.8V260.5" stroke="#111" stroke-width="1.35"/>
<text x="0.00" y="0.00" font-size="9.3" font-weight="normal" font-style="normal" text-anchor="end" fill="#1a1a1a" transform="translate(415.21,267.00) rotate(-45) scale(1.13,1)" stroke="#1a1a1a" stroke-width="0.2">350</text>
<path d="M422.44,255.8V260.5" stroke="#111" stroke-width="1.35"/>
<text x="0.00" y="0.00" font-size="9.3" font-weight="normal" font-style="normal" text-anchor="end" fill="#1a1a1a" transform="translate(426.44,267.00) rotate(-45) scale(1.13,1)" stroke="#1a1a1a" stroke-width="0.2">400</text>
<path d="M433.67,255.8V260.5" stroke="#111" stroke-width="1.35"/>
<text x="0.00" y="0.00" font-size="9.3" font-weight="normal" font-style="normal" text-anchor="end" fill="#1a1a1a" transform="translate(437.67,267.00) rotate(-45) scale(1.13,1)" stroke="#1a1a1a" stroke-width="0.2">450</text>
<path d="M444.90,255.8V260.5" stroke="#111" stroke-width="1.35"/>
<text x="0.00" y="0.00" font-size="9.3" font-weight="normal" font-style="normal" text-anchor="end" fill="#1a1a1a" transform="translate(448.90,267.00) rotate(-45) scale(1.13,1)" stroke="#1a1a1a" stroke-width="0.2">500</text>
<path d="M456.13,255.8V260.5" stroke="#111" stroke-width="1.35"/>
<text x="0.00" y="0.00" font-size="9.3" font-weight="normal" font-style="normal" text-anchor="end" fill="#1a1a1a" transform="translate(460.13,267.00) rotate(-45) scale(1.13,1)" stroke="#1a1a1a" stroke-width="0.2">550</text>
<path d="M467.36,255.8V260.5" stroke="#111" stroke-width="1.35"/>
<text x="0.00" y="0.00" font-size="9.3" font-weight="normal" font-style="normal" text-anchor="end" fill="#1a1a1a" transform="translate(471.36,267.00) rotate(-45) scale(1.13,1)" stroke="#1a1a1a" stroke-width="0.2">600</text>
<path d="M478.59,255.8V260.5" stroke="#111" stroke-width="1.35"/>
<text x="0.00" y="0.00" font-size="9.3" font-weight="normal" font-style="normal" text-anchor="end" fill="#1a1a1a" transform="translate(482.59,267.00) rotate(-45) scale(1.13,1)" stroke="#1a1a1a" stroke-width="0.2">650</text>
<path d="M489.82,255.8V260.5" stroke="#111" stroke-width="1.35"/>
<text x="0.00" y="0.00" font-size="9.3" font-weight="normal" font-style="normal" text-anchor="end" fill="#1a1a1a" transform="translate(493.82,267.00) rotate(-45) scale(1.13,1)" stroke="#1a1a1a" stroke-width="0.2">700</text>
<path d="M501.05,255.8V260.5" stroke="#111" stroke-width="1.35"/>
<text x="0.00" y="0.00" font-size="9.3" font-weight="normal" font-style="normal" text-anchor="end" fill="#1a1a1a" transform="translate(505.05,267.00) rotate(-45) scale(1.13,1)" stroke="#1a1a1a" stroke-width="0.2">750</text>
<text x="0.00" y="0.00" font-size="10.6" font-weight="normal" font-style="normal" text-anchor="start" fill="#1a1a1a" transform="translate(293.70,256.90) rotate(-90) scale(0.7562,1)" stroke="#1a1a1a" stroke-width="0.4">Ranked list metric</text>
<text x="0.00" y="0.00" font-size="10.6" font-weight="normal" font-style="normal" text-anchor="start" fill="#1a1a1a" transform="translate(307.60,267.30) rotate(-90) scale(0.7765,1)" stroke="#1a1a1a" stroke-width="0.4">(log2_ratio_of_classes)</text>
<text x="0.00" y="0.00" font-size="10.4" font-weight="normal" font-style="normal" text-anchor="start" fill="#1a1a1a" transform="translate(380.30,295.70) scale(0.7558,1)" stroke="#1a1a1a" stroke-width="0.28">Rank in ordered dataset</text>
<path d="M371.8,306.2h8.6" stroke="#90b04c" stroke-width="1.3"/>
<text x="0.00" y="0.00" font-size="8.6" font-weight="normal" font-style="normal" text-anchor="start" fill="#1a1a1a" transform="translate(385.60,309.50) scale(0.984,1)">Enrichment profile</text>
<path d="M371.8,317.5h8.6" stroke="#111" stroke-width="1.9"/>
<text x="0.00" y="0.00" font-size="8.6" font-weight="normal" font-style="normal" text-anchor="start" fill="#1a1a1a" transform="translate(385.60,319.90) scale(1.0128,1)">Hits</text>
<path d="M371.8,324.3h3.5" stroke="#c4c4c4" stroke-width="0.8"/>
<path d="M376.8,330.0h3.6" stroke="#8792a4" stroke-width="1.0"/>
<text x="0.00" y="0.00" font-size="8.6" font-weight="normal" font-style="normal" text-anchor="start" fill="#1a1a1a" transform="translate(385.60,333.00) scale(0.9921,1)">Ranking metric scores</text>
<text x="0.00" y="0.00" font-size="13.5" font-weight="bold" font-style="normal" text-anchor="start" fill="#000" transform="translate(9.40,350.20) scale(0.9231,1)" stroke="#000" stroke-width="0.8">C</text>
<text x="0.00" y="0.00" font-size="9.7" font-weight="normal" font-style="normal" text-anchor="start" fill="#31476f" transform="translate(42.70,360.20) scale(1.1497,1)">t(3;21) transcriptional network</text>
<path d="M40.3,409.42 L41.1,410.34 L41.9,411.11 L42.7,411.67 L43.5,412.01 L44.3,412.10 L45.1,411.94 L45.9,411.55 L46.7,410.93 L47.5,410.13 L48.3,409.17 L49.1,408.10 L49.9,406.99 L50.7,405.87 L51.5,404.81 L52.3,403.85 L53.1,403.05 L53.9,402.44 L54.7,402.05 L55.5,401.90 L56.3,402.00 L57.1,402.34 L57.9,402.91 L58.7,403.68 L59.5,404.61 L60.3,405.65 L61.1,406.76 L61.9,407.88 L62.7,408.96 L63.5,409.95 L64.3,410.79 L65.1,411.44 L65.9,411.88 L66.7,412.09 L67.5,412.04 L68.3,411.76 L69.1,411.24 L69.9,410.51 L70.7,409.61 L71.5,408.59 L72.3,407.49 L73.1,406.37 L73.9,405.27 L74.7,404.27 L75.5,403.39 L76.3,402.69 L77.1,402.20 L77.9,401.94 L78.7,401.93 L79.5,402.16 L80.3,402.63 L81.1,403.31 L81.9,404.17 L82.7,405.17 L83.5,406.26 L84.3,407.38 L85.1,408.48 L85.9,409.52 L86.7,410.43 L87.5,411.17 L88.3,411.71 L89.1,412.03 L89.9,412.09 L90.7,411.91 L91.5,411.50 L92.3,410.86 L93.1,410.04 L93.9,409.06 L94.7,407.99 L95.5,406.87 L96.3,405.76 L97.1,404.71 L97.9,403.76 L98.7,402.98 L99.5,402.39 L100.3,402.02 L101.1,401.90 L101.9,402.02 L102.7,402.39 L103.5,402.98 L104.3,403.76 L105.1,404.71 L105.9,405.76 L106.7,406.87 L107.5,407.99 L108.3,409.06 L109.1,410.04 L109.9,410.86 L110.7,411.50 L111.5,411.91 L112.3,412.09 L113.1,412.03 L113.9,411.71 L114.7,411.17 L115.5,410.43 L116.3,409.52 L117.1,408.48 L117.9,407.38 L118.7,406.26 L119.5,405.17 L120.3,404.17 L121.1,403.31 L121.9,402.63 L122.7,402.16 L123.5,401.93 L124.3,401.94 L125.1,402.20 L125.9,402.69 L126.7,403.39 L127.5,404.27 L128.3,405.27 L129.1,406.37 L129.9,407.49 L130.7,408.59 L131.5,409.61 L132.3,410.51 L133.1,411.24 L133.9,411.76 L134.7,412.04 L135.5,412.09 L136.3,411.88 L137.1,411.44 L137.9,410.79 L138.7,409.95 L139.5,408.96 L140.3,407.88 L141.1,406.76 L141.9,405.65 L142.7,404.61 L143.5,403.68 L144.3,402.91 L145.1,402.34 L145.9,402.00 L146.7,401.90 L147.5,402.05 L148.3,402.44 L149.1,403.05 L149.9,403.85 L150.7,404.81 L151.5,405.87 L152.3,406.99 L153.1,408.10 L153.9,409.17 L154.7,410.13 L155.5,410.93 L156.3,411.55 L157.1,411.94 L157.9,412.10 L158.7,412.01 L159.5,411.67 L160.3,411.11 L161.1,410.34 L161.9,409.42 L162.7,408.38 L163.5,407.27 L164.3,406.15 L165.1,405.06 L165.9,404.08 L166.7,403.23 L167.5,402.57 L168.3,402.13 L169.1,401.92 L169.9,401.95 L170.7,402.23 L171.5,402.75 L172.3,403.47 L173.1,404.36 L173.9,405.38 L174.7,406.48 L175.5,407.60 L176.3,408.70 L177.1,409.71 L177.9,410.59 L178.7,411.30 L179.5,411.79 L180.3,412.06 L181.1,412.08 L181.9,411.85 L182.7,411.39 L183.5,410.71 L184.3,409.85 L185.1,408.86 L185.9,407.77 L186.7,406.65 L187.5,405.54 L188.3,404.51 L189.1,403.59 L189.9,402.84 L190.7,402.30 L191.5,401.98 L192.3,401.90 L193.1,402.08 L193.9,402.49 L194.7,403.12 L195.5,403.94 L196.3,404.91 L197.1,405.98 L197.9,407.10 L198.7,408.21 L199.5,409.27 L200.3,410.21 L201.1,411.00 L201.9,411.60 L202.7,411.97 L203.5,412.10 L204.3,411.98 L205.1,411.62 L205.9,411.04 L206.7,410.26 L207.5,409.32 L208.3,408.27" fill="none" stroke="#111" stroke-width="1.3" stroke-linecap="round" stroke-linejoin="round"/>
<path d="M50.4,408.84 L51.2,409.84 L52.0,410.70 L52.8,411.38 L53.6,411.85 L54.4,412.08 L55.2,412.06 L56.0,411.80 L56.8,411.30 L57.6,410.60 L58.4,409.72 L59.2,408.71 L60.0,407.62 L60.8,406.49 L61.6,405.39 L62.4,404.37 L63.2,403.48 L64.0,402.76 L64.8,402.24 L65.6,401.95 L66.4,401.91 L67.2,402.12 L68.0,402.56 L68.8,403.22 L69.6,404.07 L70.4,405.05 L71.2,406.13 L72.0,407.25 L72.8,408.36 L73.6,409.41 L74.4,410.33 L75.2,411.10 L76.0,411.66 L76.8,412.00 L77.6,412.10 L78.4,411.95 L79.2,411.55 L80.0,410.94 L80.8,410.14 L81.6,409.18 L82.4,408.12 L83.2,407.00 L84.0,405.88 L84.8,404.82 L85.6,403.86 L86.4,403.06 L87.2,402.45 L88.0,402.05 L88.8,401.90 L89.6,402.00 L90.4,402.34 L91.2,402.90 L92.0,403.67 L92.8,404.59 L93.6,405.64 L94.4,406.75 L95.2,407.87 L96.0,408.95 L96.8,409.93 L97.6,410.78 L98.4,411.44 L99.2,411.88 L100.0,412.09 L100.8,412.05 L101.6,411.76 L102.4,411.24 L103.2,410.52 L104.0,409.63 L104.8,408.61 L105.6,407.51 L106.4,406.38 L107.2,405.29 L108.0,404.28 L108.8,403.40 L109.6,402.70 L110.4,402.20 L111.2,401.94 L112.0,401.92 L112.8,402.15 L113.6,402.62 L114.4,403.30 L115.2,404.16 L116.0,405.16 L116.8,406.24 L117.6,407.37 L118.4,408.47 L119.2,409.51 L120.0,410.42 L120.8,411.16 L121.6,411.71 L122.4,412.02 L123.2,412.09 L124.0,411.92 L124.8,411.50 L125.6,410.87 L126.4,410.05 L127.2,409.08 L128.0,408.01 L128.8,406.89 L129.6,405.77 L130.4,404.72 L131.2,403.77 L132.0,402.99 L132.8,402.40 L133.6,402.03 L134.4,401.90 L135.2,402.02 L136.0,402.38 L136.8,402.97 L137.6,403.75 L138.4,404.69 L139.2,405.75 L140.0,406.86 L140.8,407.98 L141.6,409.05 L142.4,410.02 L143.2,410.85 L144.0,411.49 L144.8,411.91 L145.6,412.09 L146.4,412.03 L147.2,411.72 L148.0,411.18 L148.8,410.44 L149.6,409.53 L150.4,408.50 L151.2,407.39 L152.0,406.27 L152.8,405.18 L153.6,404.18 L154.4,403.32 L155.2,402.64 L156.0,402.16 L156.8,401.93 L157.6,401.94 L158.4,402.19 L159.2,402.68 L160.0,403.38 L160.8,404.25 L161.6,405.26 L162.4,406.35 L163.2,407.48 L164.0,408.58 L164.8,409.60 L165.6,410.50 L166.4,411.23 L167.2,411.75 L168.0,412.04 L168.8,412.09 L169.6,411.89 L170.4,411.45 L171.2,410.80 L172.0,409.96 L172.8,408.97 L173.6,407.90 L174.4,406.77 L175.2,405.66 L176.0,404.62 L176.8,403.69 L177.6,402.92 L178.4,402.35 L179.2,402.00 L180.0,401.90 L180.8,402.05 L181.6,402.43 L182.4,403.04 L183.2,403.84 L184.0,404.79 L184.8,405.86 L185.6,406.97 L186.4,408.09 L187.2,409.15 L188.0,410.11 L188.8,410.92 L189.6,411.54 L190.4,411.94 L191.2,412.10 L192.0,412.01 L192.8,411.67 L193.6,411.11 L194.4,410.35 L195.2,409.43 L196.0,408.39 L196.8,407.28 L197.6,406.16 L198.4,405.08 L199.2,404.09 L200.0,403.24 L200.8,402.58 L201.6,402.13 L202.4,401.92 L203.2,401.95 L204.0,402.23 L204.8,402.74 L205.6,403.46 L206.4,404.35 L207.2,405.37 L208.0,406.47 L208.8,407.59 L209.6,408.69 L210.4,409.70 L211.2,410.58 L212.0,411.29 L212.8,411.79 L213.6,412.06 L214.4,412.08 L215.2,411.85 L216.0,411.39 L216.8,410.72 L217.6,409.86 L218.4,408.87" fill="none" stroke="#111" stroke-width="1.3" stroke-linecap="round" stroke-linejoin="round"/>
<defs><clipPath id="cl1"><polygon points="20.4,276.1 229.4,497.2 529.4,497.2 320.4,276.1"/></clipPath></defs>
<ellipse cx="133.6" cy="386.2" rx="37.5" ry="13.8" transform="rotate(-16.3 133.6 386.2)" fill="#c9d9a7"/>
<g clip-path="url(#cl1)"><ellipse cx="133.6" cy="386.2" rx="37.5" ry="13.8" transform="rotate(-16.3 133.6 386.2)" fill="#8c3030"/></g>
<ellipse cx="73.3" cy="390.0" rx="26" ry="16.9" fill="#dcdcc8" stroke="#9aa6b8" stroke-width="1.1"/>
<ellipse cx="163.6" cy="396.3" rx="25.6" ry="10.6" fill="#8d8b54"/>
<text x="0.00" y="0.00" font-size="8.4" font-weight="normal" font-style="normal" text-anchor="start" fill="#3c3c3c" transform="translate(64.00,393.60) scale(0.9427,1)">ETS</text>
<text x="0.00" y="0.00" font-size="8.2" font-weight="bold" font-style="normal" text-anchor="start" fill="#1d2a14" transform="translate(105.40,396.20) rotate(-18.1) scale(1.0041,1)">RUNX1-EVI1</text>
<text x="0.00" y="0.00" font-size="9.2" font-weight="normal" font-style="normal" text-anchor="start" fill="#1a1a1a" transform="translate(149.30,399.20) scale(0.9202,1)" stroke="#1a1a1a" stroke-width="0.2">GATA2</text>
<text x="0.00" y="0.00" font-size="10.6" font-weight="normal" font-style="normal" text-anchor="start" fill="#1a1a1a" transform="translate(61.50,425.20) scale(0.9847,1)">ETS</text>
<text x="0.00" y="0.00" font-size="10.6" font-weight="normal" font-style="normal" text-anchor="start" fill="#1a1a1a" transform="translate(107.60,425.20) scale(1.0321,1)">RUNX</text>
<text x="0.00" y="0.00" font-size="10.6" font-weight="normal" font-style="normal" text-anchor="start" fill="#1a1a1a" transform="translate(155.80,425.20) scale(0.9748,1)">GATA</text>
<path d="M39.6,494.72 L40.4,495.63 L41.2,496.38 L42.0,496.94 L42.8,497.29 L43.6,497.40 L44.4,497.28 L45.2,496.92 L46.0,496.35 L46.8,495.59 L47.6,494.68 L48.4,493.65 L49.2,492.57 L50.0,491.47 L50.8,490.41 L51.6,489.44 L52.4,488.60 L53.2,487.93 L54.0,487.47 L54.8,487.23 L55.6,487.23 L56.4,487.46 L57.2,487.92 L58.0,488.59 L58.8,489.42 L59.6,490.40 L60.4,491.45 L61.2,492.55 L62.0,493.64 L62.8,494.66 L63.6,495.58 L64.4,496.34 L65.2,496.91 L66.0,497.27 L66.8,497.40 L67.6,497.29 L68.4,496.95 L69.2,496.39 L70.0,495.64 L70.8,494.73 L71.6,493.71 L72.4,492.63 L73.2,491.53 L74.0,490.46 L74.8,489.49 L75.6,488.64 L76.4,487.96 L77.2,487.49 L78.0,487.24 L78.8,487.22 L79.6,487.44 L80.4,487.89 L81.2,488.55 L82.0,489.37 L82.8,490.34 L83.6,491.39 L84.4,492.49 L85.2,493.58 L86.0,494.61 L86.8,495.53 L87.6,496.30 L88.4,496.89 L89.2,497.26 L90.0,497.40 L90.8,497.30 L91.6,496.97 L92.4,496.42 L93.2,495.68 L94.0,494.78 L94.8,493.77 L95.6,492.69 L96.4,491.59 L97.2,490.52 L98.0,489.54 L98.8,488.68 L99.6,488.00 L100.4,487.51 L101.2,487.25 L102.0,487.22 L102.8,487.43 L103.6,487.86 L104.4,488.50 L105.2,489.32 L106.0,490.28 L106.8,491.33 L107.6,492.43 L108.4,493.52 L109.2,494.56 L110.0,495.49 L110.8,496.27 L111.6,496.86 L112.4,497.24 L113.2,497.40 L114.0,497.31 L114.8,497.00 L115.6,496.46 L116.4,495.73 L117.2,494.84 L118.0,493.83 L118.8,492.75 L119.6,491.65 L120.4,490.58 L121.2,489.59 L122.0,488.73 L122.8,488.03 L123.6,487.53 L124.4,487.25 L125.2,487.21 L126.0,487.41 L126.8,487.83 L127.6,488.46 L128.4,489.28 L129.2,490.23 L130.0,491.27 L130.8,492.37 L131.6,493.46 L132.4,494.50 L133.2,495.44 L134.0,496.23 L134.8,496.83 L135.6,497.23 L136.4,497.40 L137.2,497.32 L138.0,497.02 L138.8,496.49 L139.6,495.77 L140.4,494.89 L141.2,493.89 L142.0,492.81 L142.8,491.71 L143.6,490.64 L144.4,489.64 L145.2,488.77 L146.0,488.06 L146.8,487.55 L147.6,487.26 L148.4,487.21 L149.2,487.39 L150.0,487.80 L150.8,488.42 L151.6,489.23 L152.4,490.17 L153.2,491.21 L154.0,492.31 L154.8,493.40 L155.6,494.45 L156.4,495.39 L157.2,496.19 L158.0,496.81 L158.8,497.21 L159.6,497.39 L160.4,497.33 L161.2,497.04 L162.0,496.53 L162.8,495.82 L163.6,494.94 L164.4,493.95 L165.2,492.87 L166.0,491.77 L166.8,490.69 L167.6,489.69 L168.4,488.81 L169.2,488.10 L170.0,487.57 L170.8,487.27 L171.6,487.21 L172.4,487.38 L173.2,487.77 L174.0,488.39 L174.8,489.18 L175.6,490.12 L176.4,491.16 L177.2,492.25 L178.0,493.34 L178.8,494.39 L179.6,495.34 L180.4,496.15 L181.2,496.78 L182.0,497.20 L182.8,497.39 L183.6,497.34 L184.4,497.06 L185.2,496.56 L186.0,495.86 L186.8,494.99 L187.6,494.00 L188.4,492.93 L189.2,491.83 L190.0,490.75 L190.8,489.75 L191.6,488.86 L192.4,488.13 L193.2,487.60 L194.0,487.28 L194.8,487.20 L195.6,487.36 L196.4,487.75 L197.2,488.35 L198.0,489.13 L198.8,490.06 L199.6,491.10 L200.4,492.19 L201.2,493.28 L202.0,494.33 L202.8,495.29 L203.6,496.11 L204.4,496.75 L205.2,497.18 L206.0,497.38 L206.8,497.35 L207.6,497.08 L208.4,496.59 L209.2,495.90 L210.0,495.05 L210.8,494.06" fill="none" stroke="#111" stroke-width="1.3" stroke-linecap="round" stroke-linejoin="round"/>
<path d="M49.9,494.14 L50.7,495.12 L51.5,495.97 L52.3,496.64 L53.1,497.12 L53.9,497.36 L54.7,497.38 L55.5,497.15 L56.3,496.70 L57.1,496.05 L57.9,495.22 L58.7,494.25 L59.5,493.20 L60.3,492.10 L61.1,491.01 L61.9,489.98 L62.7,489.06 L63.5,488.29 L64.3,487.71 L65.1,487.34 L65.9,487.20 L66.7,487.30 L67.5,487.63 L68.3,488.18 L69.1,488.92 L69.9,489.82 L70.7,490.84 L71.5,491.92 L72.3,493.02 L73.1,494.09 L73.9,495.07 L74.7,495.92 L75.5,496.61 L76.3,497.09 L77.1,497.36 L77.9,497.38 L78.7,497.17 L79.5,496.73 L80.3,496.09 L81.1,495.27 L81.9,494.31 L82.7,493.26 L83.5,492.16 L84.3,491.07 L85.1,490.04 L85.9,489.11 L86.7,488.33 L87.5,487.73 L88.3,487.35 L89.1,487.20 L89.9,487.29 L90.7,487.61 L91.5,488.15 L92.3,488.88 L93.1,489.77 L93.9,490.78 L94.7,491.86 L95.5,492.96 L96.3,494.03 L97.1,495.02 L97.9,495.88 L98.7,496.58 L99.5,497.07 L100.3,497.35 L101.1,497.39 L101.9,497.19 L102.7,496.76 L103.5,496.13 L104.3,495.32 L105.1,494.36 L105.9,493.32 L106.7,492.22 L107.5,491.13 L108.3,490.09 L109.1,489.16 L109.9,488.37 L110.7,487.76 L111.5,487.37 L112.3,487.20 L113.1,487.28 L113.9,487.59 L114.7,488.11 L115.5,488.83 L116.3,489.72 L117.1,490.72 L117.9,491.80 L118.7,492.90 L119.5,493.97 L120.3,494.97 L121.1,495.84 L121.9,496.54 L122.7,497.05 L123.5,497.34 L124.3,497.39 L125.1,497.21 L125.9,496.79 L126.7,496.17 L127.5,495.37 L128.3,494.42 L129.1,493.38 L129.9,492.28 L130.7,491.19 L131.5,490.15 L132.3,489.20 L133.1,488.41 L133.9,487.79 L134.7,487.38 L135.5,487.21 L136.3,487.27 L137.1,487.56 L137.9,488.08 L138.7,488.79 L139.5,489.67 L140.3,490.66 L141.1,491.74 L141.9,492.84 L142.7,493.91 L143.5,494.91 L144.3,495.79 L145.1,496.51 L145.9,497.03 L146.7,497.33 L147.5,497.39 L148.3,497.22 L149.1,496.82 L149.9,496.21 L150.7,495.41 L151.5,494.48 L152.3,493.44 L153.1,492.34 L153.9,491.25 L154.7,490.20 L155.5,489.25 L156.3,488.45 L157.1,487.82 L157.9,487.40 L158.7,487.21 L159.5,487.26 L160.3,487.54 L161.1,488.04 L161.9,488.75 L162.7,489.61 L163.5,490.61 L164.3,491.68 L165.1,492.78 L165.9,493.86 L166.7,494.86 L167.5,495.75 L168.3,496.47 L169.1,497.01 L169.9,497.32 L170.7,497.40 L171.5,497.24 L172.3,496.85 L173.1,496.25 L173.9,495.46 L174.7,494.53 L175.5,493.49 L176.3,492.40 L177.1,491.31 L177.9,490.26 L178.7,489.30 L179.5,488.49 L180.3,487.85 L181.1,487.42 L181.9,487.22 L182.7,487.25 L183.5,487.52 L184.3,488.01 L185.1,488.70 L185.9,489.56 L186.7,490.55 L187.5,491.62 L188.3,492.72 L189.1,493.80 L189.9,494.81 L190.7,495.70 L191.5,496.44 L192.3,496.98 L193.1,497.31 L193.9,497.40 L194.7,497.25 L195.5,496.88 L196.3,496.29 L197.1,495.51 L197.9,494.59 L198.7,493.55 L199.5,492.46 L200.3,491.37 L201.1,490.31 L201.9,489.35 L202.7,488.53 L203.5,487.88 L204.3,487.44 L205.1,487.22 L205.9,487.24 L206.7,487.50 L207.5,487.98 L208.3,488.66 L209.1,489.51 L209.9,490.49 L210.7,491.56 L211.5,492.66 L212.3,493.74 L213.1,494.76 L213.9,495.66 L214.7,496.40 L215.5,496.96 L216.3,497.29 L217.1,497.40 L217.9,497.27 L218.7,496.90 L219.5,496.32 L220.3,495.56 L221.1,494.64 L221.9,493.61" fill="none" stroke="#111" stroke-width="1.3" stroke-linecap="round" stroke-linejoin="round"/>
<defs><clipPath id="cl2"><polygon points="80.5,358.0 201.5,589.0 501.5,589.0 380.5,358.0"/></clipPath></defs>
<ellipse cx="138.5" cy="471.5" rx="41.4" ry="14.5" transform="rotate(-12.5 138.5 471.5)" fill="#c9d9a7"/>
<g clip-path="url(#cl2)"><ellipse cx="138.5" cy="471.5" rx="41.4" ry="14.5" transform="rotate(-12.5 138.5 471.5)" fill="#d2621f"/></g>
<ellipse cx="80.7" cy="468.8" rx="25.7" ry="18.3" fill="#dcdcc8" stroke="#9aa6b8" stroke-width="1.1"/>
<text x="0.00" y="0.00" font-size="6.6" font-weight="bold" font-style="normal" text-anchor="start" fill="#1d2a14" transform="translate(115.90,479.00) rotate(-18.4) scale(1.0574,1)">RUNX1-ETO</text>
<ellipse cx="122.9" cy="457.6" rx="26.4" ry="12.8" fill="#f3ccb1" stroke="#9aa6b8" stroke-width="1.1"/>
<ellipse cx="178.3" cy="478.5" rx="26.4" ry="11.2" fill="#4a76c0"/>
<text x="0.00" y="0.00" font-size="8.7" font-weight="normal" font-style="normal" text-anchor="start" fill="#3a3a2c" transform="translate(71.70,461.50) scale(0.9255,1)">PU.1</text>
<text x="0.00" y="0.00" font-size="8.7" font-weight="normal" font-style="normal" text-anchor="start" fill="#3a3a2c" transform="translate(71.70,472.30) scale(0.963,1)">Fli1</text>
<text x="0.00" y="0.00" font-size="8.7" font-weight="normal" font-style="normal" text-anchor="start" fill="#3a3a2c" transform="translate(71.70,482.70) scale(0.9919,1)">ERG</text>
<text x="0.00" y="0.00" font-size="8.7" font-weight="normal" font-style="normal" text-anchor="start" fill="#222" transform="translate(109.60,456.30) scale(1.0215,1)">LMO2</text>
<text x="0.00" y="0.00" font-size="8.7" font-weight="normal" font-style="normal" text-anchor="start" fill="#222" transform="translate(110.20,466.90) scale(0.9374,1)">LDB1</text>
<text x="0.00" y="0.00" font-size="9.6" font-weight="normal" font-style="normal" text-anchor="start" fill="#1b3563" transform="translate(169.70,482.00) scale(0.9372,1)">HEB</text>
<text x="0.00" y="0.00" font-size="10.6" font-weight="normal" font-style="normal" text-anchor="start" fill="#1a1a1a" transform="translate(71.30,510.60) scale(0.9702,1)">ETS</text>
<text x="0.00" y="0.00" font-size="10.6" font-weight="normal" font-style="normal" text-anchor="start" fill="#1a1a1a" transform="translate(117.70,510.60) scale(1.0188,1)">RUNX</text>
<text x="0.00" y="0.00" font-size="10.6" font-weight="normal" font-style="normal" text-anchor="start" fill="#1a1a1a" transform="translate(165.20,510.60) scale(1.0635,1)">E-Box</text>
<text x="0.00" y="0.00" font-size="9.7" font-weight="normal" font-style="normal" text-anchor="start" fill="#31476f" transform="translate(42.70,528.50) scale(1.1497,1)">t(8;21) transcriptional network</text>
<defs><marker id="ah" viewBox="0 0 10 10" refX="9" refY="5" markerUnits="userSpaceOnUse" markerWidth="8.3" markerHeight="8.3" orient="auto"><path d="M0,0.3 L10,5 L0,9.7 L1.6,5 Z" fill="#223b73"/></marker></defs>
<path d="M223.7,403 L295.60,397.86" stroke="#223b73" stroke-width="2.1" fill="none" marker-end="url(#ah)"/>
<path d="M223.7,409.4 L292.1,436.7 M289.95,442.09 L294.25,431.31" stroke="#bd1f27" stroke-width="2.8" fill="none"/>
<path d="M223.9,490.0 L291.1,462.5 M293.30,467.87 L288.90,457.13" stroke="#bd1f27" stroke-width="2.8" fill="none"/>
<path d="M228,492.9 L292.50,497.54" stroke="#223b73" stroke-width="2.3" fill="none" marker-end="url(#ah)"/>
<rect x="301.1" y="383.9" width="87.9" height="28.7" fill="#d46c1d" stroke="#6a3a14" stroke-width="1.0"/>
<text x="0.00" y="0.00" font-size="6.9" font-weight="normal" font-style="normal" text-anchor="start" fill="#fdf3e6" transform="translate(318.60,390.90) scale(1.0755,1)">Stem cell genes</text>
<text x="0.00" y="0.00" font-size="6.9" font-weight="normal" font-style="italic" text-anchor="start" fill="#fdf3e6" transform="translate(318.60,398.80) scale(1.0647,1)">i.e.GATA2, ERG</text>
<text x="0.00" y="0.00" font-size="6.9" font-weight="normal" font-style="italic" text-anchor="start" fill="#fdf3e6" transform="translate(319.50,407.80) scale(1.0828,1)">MEIS1, HOXA9</text>
<rect x="300.6" y="434.8" width="88.4" height="28.7" fill="#4271c0" stroke="#2c4880" stroke-width="1.0"/>
<text x="0.00" y="0.00" font-size="6.9" font-weight="normal" font-style="normal" text-anchor="start" fill="#fdf3e6" transform="translate(311.20,447.50) scale(1.0639,1)">Differentiation genes</text>
<text x="0.00" y="0.00" font-size="6.9" font-weight="normal" font-style="italic" text-anchor="start" fill="#fdf3e6" transform="translate(330.20,457.00) scale(1.0773,1)">(CEBPA)</text>
<rect x="300.4" y="483.2" width="88.6" height="28.8" fill="#d46c1d" stroke="#6a3a14" stroke-width="1.0"/>
<text x="0.00" y="0.00" font-size="6.9" font-weight="normal" font-style="italic" text-anchor="start" fill="#fdf3e6" transform="translate(319.20,489.40) scale(1.0633,1)">Stem cell genes</text>
<text x="0.00" y="0.00" font-size="6.9" font-weight="normal" font-style="italic" text-anchor="start" fill="#fdf3e6" transform="translate(317.00,498.40) scale(1.0775,1)">i.e.GATA2, ERG,</text>
<text x="0.00" y="0.00" font-size="6.9" font-weight="normal" font-style="italic" text-anchor="start" fill="#fdf3e6" transform="translate(332.30,507.30) scale(1.0689,1)">RUNX1</text>
<ellipse cx="228.3" cy="444.9" rx="27.0" ry="8.9" fill="#96af56" stroke="#7f9848" stroke-width="1.0"/>
<text x="0.00" y="0.00" font-size="8.4" font-weight="normal" font-style="normal" text-anchor="start" fill="#fbfbee" transform="translate(212.20,447.90) scale(1.1076,1)">C/EBPα</text>
<ellipse cx="429.5" cy="444.4" rx="27.1" ry="8.7" fill="#96af56" stroke="#7f9848" stroke-width="1.0"/>
<text x="0.00" y="0.00" font-size="8.4" font-weight="normal" font-style="normal" text-anchor="start" fill="#fbfbee" transform="translate(414.00,447.30) scale(1.091,1)">C/EBPα</text>
<text x="0.00" y="0.00" font-size="13.5" font-weight="bold" font-style="normal" text-anchor="start" fill="#000" transform="translate(8.30,566.40) scale(0.8924,1)" stroke="#000" stroke-width="0.8">D</text>
<text x="0.00" y="0.00" font-size="9.7" font-weight="normal" font-style="normal" text-anchor="start" fill="#31476f" transform="translate(41.40,575.10) scale(1.1668,1)">t(3;21) after C/EBPα-ER induction</text>
<path d="M39.4,627.72 L40.2,628.64 L41.0,629.41 L41.8,629.97 L42.6,630.31 L43.4,630.40 L44.2,630.24 L45.0,629.85 L45.8,629.23 L46.6,628.43 L47.4,627.47 L48.2,626.40 L49.0,625.29 L49.8,624.17 L50.6,623.11 L51.4,622.15 L52.2,621.35 L53.0,620.74 L53.8,620.35 L54.6,620.20 L55.4,620.30 L56.2,620.64 L57.0,621.21 L57.8,621.98 L58.6,622.91 L59.4,623.95 L60.2,625.06 L61.0,626.18 L61.8,627.26 L62.6,628.25 L63.4,629.09 L64.2,629.74 L65.0,630.18 L65.8,630.39 L66.6,630.34 L67.4,630.06 L68.2,629.54 L69.0,628.81 L69.8,627.91 L70.6,626.89 L71.4,625.79 L72.2,624.67 L73.0,623.57 L73.8,622.57 L74.6,621.69 L75.4,620.99 L76.2,620.50 L77.0,620.24 L77.8,620.23 L78.6,620.46 L79.4,620.93 L80.2,621.61 L81.0,622.47 L81.8,623.47 L82.6,624.56 L83.4,625.68 L84.2,626.78 L85.0,627.82 L85.8,628.73 L86.6,629.47 L87.4,630.01 L88.2,630.33 L89.0,630.39 L89.8,630.21 L90.6,629.80 L91.4,629.16 L92.2,628.34 L93.0,627.36 L93.8,626.29 L94.6,625.17 L95.4,624.06 L96.2,623.01 L97.0,622.06 L97.8,621.28 L98.6,620.69 L99.4,620.32 L100.2,620.20 L101.0,620.32 L101.8,620.69 L102.6,621.28 L103.4,622.06 L104.2,623.01 L105.0,624.06 L105.8,625.17 L106.6,626.29 L107.4,627.36 L108.2,628.34 L109.0,629.16 L109.8,629.80 L110.6,630.21 L111.4,630.39 L112.2,630.33 L113.0,630.01 L113.8,629.47 L114.6,628.73 L115.4,627.82 L116.2,626.78 L117.0,625.68 L117.8,624.56 L118.6,623.47 L119.4,622.47 L120.2,621.61 L121.0,620.93 L121.8,620.46 L122.6,620.23 L123.4,620.24 L124.2,620.50 L125.0,620.99 L125.8,621.69 L126.6,622.57 L127.4,623.57 L128.2,624.67 L129.0,625.79 L129.8,626.89 L130.6,627.91 L131.4,628.81 L132.2,629.54 L133.0,630.06 L133.8,630.34 L134.6,630.39 L135.4,630.18 L136.2,629.74 L137.0,629.09 L137.8,628.25 L138.6,627.26 L139.4,626.18 L140.2,625.06 L141.0,623.95 L141.8,622.91 L142.6,621.98 L143.4,621.21 L144.2,620.64 L145.0,620.30 L145.8,620.20 L146.6,620.35 L147.4,620.74 L148.2,621.35 L149.0,622.15 L149.8,623.11 L150.6,624.17 L151.4,625.29 L152.2,626.40 L153.0,627.47 L153.8,628.43 L154.6,629.23 L155.4,629.85 L156.2,630.24 L157.0,630.40 L157.8,630.31 L158.6,629.97 L159.4,629.41 L160.2,628.64 L161.0,627.72 L161.8,626.68 L162.6,625.57 L163.4,624.45 L164.2,623.36 L165.0,622.38 L165.8,621.53 L166.6,620.87 L167.4,620.43 L168.2,620.22 L169.0,620.25 L169.8,620.53 L170.6,621.05 L171.4,621.77 L172.2,622.66 L173.0,623.68 L173.8,624.78 L174.6,625.90 L175.4,627.00 L176.2,628.01 L177.0,628.89 L177.8,629.60 L178.6,630.09 L179.4,630.36 L180.2,630.38 L181.0,630.15 L181.8,629.69 L182.6,629.01 L183.4,628.15 L184.2,627.16 L185.0,626.07 L185.8,624.95 L186.6,623.84 L187.4,622.81 L188.2,621.89 L189.0,621.14 L189.8,620.60 L190.6,620.28 L191.4,620.20 L192.2,620.38 L193.0,620.79 L193.8,621.42 L194.6,622.24 L195.4,623.21 L196.2,624.28 L197.0,625.40 L197.8,626.51 L198.6,627.57 L199.4,628.51 L200.2,629.30 L201.0,629.90 L201.8,630.27 L202.6,630.40 L203.4,630.28 L204.2,629.92 L205.0,629.34 L205.8,628.56 L206.6,627.62 L207.4,626.57" fill="none" stroke="#111" stroke-width="1.3" stroke-linecap="round" stroke-linejoin="round"/>
<path d="M49.5,627.14 L50.3,628.14 L51.1,629.00 L51.9,629.68 L52.7,630.15 L53.5,630.38 L54.3,630.36 L55.1,630.10 L55.9,629.60 L56.7,628.90 L57.5,628.02 L58.3,627.01 L59.1,625.92 L59.9,624.79 L60.7,623.69 L61.5,622.67 L62.3,621.78 L63.1,621.06 L63.9,620.54 L64.7,620.25 L65.5,620.21 L66.3,620.42 L67.1,620.86 L67.9,621.52 L68.7,622.37 L69.5,623.35 L70.3,624.43 L71.1,625.55 L71.9,626.66 L72.7,627.71 L73.5,628.63 L74.3,629.40 L75.1,629.96 L75.9,630.30 L76.7,630.40 L77.5,630.25 L78.3,629.85 L79.1,629.24 L79.9,628.44 L80.7,627.48 L81.5,626.42 L82.3,625.30 L83.1,624.18 L83.9,623.12 L84.7,622.16 L85.5,621.36 L86.3,620.75 L87.1,620.35 L87.9,620.20 L88.7,620.30 L89.5,620.64 L90.3,621.20 L91.1,621.97 L91.9,622.89 L92.7,623.94 L93.5,625.05 L94.3,626.17 L95.1,627.25 L95.9,628.23 L96.7,629.08 L97.5,629.74 L98.3,630.18 L99.1,630.39 L99.9,630.35 L100.7,630.06 L101.5,629.54 L102.3,628.82 L103.1,627.93 L103.9,626.91 L104.7,625.81 L105.5,624.68 L106.3,623.59 L107.1,622.58 L107.9,621.70 L108.7,621.00 L109.5,620.50 L110.3,620.24 L111.1,620.22 L111.9,620.45 L112.7,620.92 L113.5,621.60 L114.3,622.46 L115.1,623.46 L115.9,624.54 L116.7,625.67 L117.5,626.77 L118.3,627.81 L119.1,628.72 L119.9,629.46 L120.7,630.01 L121.5,630.32 L122.3,630.39 L123.1,630.22 L123.9,629.80 L124.7,629.17 L125.5,628.35 L126.3,627.38 L127.1,626.31 L127.9,625.19 L128.7,624.07 L129.5,623.02 L130.3,622.07 L131.1,621.29 L131.9,620.70 L132.7,620.33 L133.5,620.20 L134.3,620.32 L135.1,620.68 L135.9,621.27 L136.7,622.05 L137.5,622.99 L138.3,624.05 L139.1,625.16 L139.9,626.28 L140.7,627.35 L141.5,628.32 L142.3,629.15 L143.1,629.79 L143.9,630.21 L144.7,630.39 L145.5,630.33 L146.3,630.02 L147.1,629.48 L147.9,628.74 L148.7,627.83 L149.5,626.80 L150.3,625.69 L151.1,624.57 L151.9,623.48 L152.7,622.48 L153.5,621.62 L154.3,620.94 L155.1,620.46 L155.9,620.23 L156.7,620.24 L157.5,620.49 L158.3,620.98 L159.1,621.68 L159.9,622.55 L160.7,623.56 L161.5,624.65 L162.3,625.78 L163.1,626.88 L163.9,627.90 L164.7,628.80 L165.5,629.53 L166.3,630.05 L167.1,630.34 L167.9,630.39 L168.7,630.19 L169.5,629.75 L170.3,629.10 L171.1,628.26 L171.9,627.27 L172.7,626.20 L173.5,625.07 L174.3,623.96 L175.1,622.92 L175.9,621.99 L176.7,621.22 L177.5,620.65 L178.3,620.30 L179.1,620.20 L179.9,620.35 L180.7,620.73 L181.5,621.34 L182.3,622.14 L183.1,623.09 L183.9,624.16 L184.7,625.27 L185.5,626.39 L186.3,627.45 L187.1,628.41 L187.9,629.22 L188.7,629.84 L189.5,630.24 L190.3,630.40 L191.1,630.31 L191.9,629.97 L192.7,629.41 L193.5,628.65 L194.3,627.73 L195.1,626.69 L195.9,625.58 L196.7,624.46 L197.5,623.38 L198.3,622.39 L199.1,621.54 L199.9,620.88 L200.7,620.43 L201.5,620.22 L202.3,620.25 L203.1,620.53 L203.9,621.04 L204.7,621.76 L205.5,622.65 L206.3,623.67 L207.1,624.77 L207.9,625.89 L208.7,626.99 L209.5,628.00 L210.3,628.88 L211.1,629.59 L211.9,630.09 L212.7,630.36 L213.5,630.38 L214.3,630.15 L215.1,629.69 L215.9,629.02 L216.7,628.16 L217.5,627.17" fill="none" stroke="#111" stroke-width="1.3" stroke-linecap="round" stroke-linejoin="round"/>
<path d="M40.0,707.22 L40.8,708.13 L41.6,708.88 L42.4,709.44 L43.2,709.79 L44.0,709.90 L44.8,709.77 L45.6,709.41 L46.4,708.84 L47.2,708.07 L48.0,707.16 L48.8,706.13 L49.6,705.04 L50.4,703.94 L51.2,702.88 L52.0,701.91 L52.8,701.07 L53.6,700.41 L54.4,699.95 L55.2,699.73 L56.0,699.73 L56.8,699.98 L57.6,700.45 L58.4,701.13 L59.2,701.97 L60.0,702.95 L60.8,704.02 L61.6,705.12 L62.4,706.21 L63.2,707.23 L64.0,708.13 L64.8,708.89 L65.6,709.45 L66.4,709.79 L67.2,709.90 L68.0,709.77 L68.8,709.41 L69.6,708.83 L70.4,708.07 L71.2,707.15 L72.0,706.12 L72.8,705.03 L73.6,703.93 L74.4,702.87 L75.2,701.90 L76.0,701.06 L76.8,700.41 L77.6,699.95 L78.4,699.72 L79.2,699.74 L80.0,699.98 L80.8,700.46 L81.6,701.13 L82.4,701.98 L83.2,702.96 L84.0,704.03 L84.8,705.13 L85.6,706.21 L86.4,707.24 L87.2,708.14 L88.0,708.89 L88.8,709.45 L89.6,709.79 L90.4,709.90 L91.2,709.77 L92.0,709.41 L92.8,708.83 L93.6,708.06 L94.4,707.14 L95.2,706.11 L96.0,705.02 L96.8,703.92 L97.6,702.86 L98.4,701.89 L99.2,701.06 L100.0,700.40 L100.8,699.95 L101.6,699.72 L102.4,699.74 L103.2,699.99 L104.0,700.46 L104.8,701.14 L105.6,701.99 L106.4,702.97 L107.2,704.04 L108.0,705.14 L108.8,706.22 L109.6,707.24 L110.4,708.15 L111.2,708.90 L112.0,709.45 L112.8,709.79 L113.6,709.90 L114.4,709.77 L115.2,709.40 L116.0,708.82 L116.8,708.05 L117.6,707.13 L118.4,706.10 L119.2,705.01 L120.0,703.91 L120.8,702.85 L121.6,701.88 L122.4,701.05 L123.2,700.40 L124.0,699.95 L124.8,699.72 L125.6,699.74 L126.4,699.99 L127.2,700.47 L128.0,701.15 L128.8,702.00 L129.6,702.98 L130.4,704.04 L131.2,705.15 L132.0,706.23 L132.8,707.25 L133.6,708.16 L134.4,708.90 L135.2,709.46 L136.0,709.80 L136.8,709.90 L137.6,709.76 L138.4,709.40 L139.2,708.82 L140.0,708.04 L140.8,707.12 L141.6,706.09 L142.4,705.00 L143.2,703.90 L144.0,702.84 L144.8,701.88 L145.6,701.05 L146.4,700.39 L147.2,699.94 L148.0,699.72 L148.8,699.74 L149.6,699.99 L150.4,700.47 L151.2,701.15 L152.0,702.00 L152.8,702.99 L153.6,704.05 L154.4,705.16 L155.2,706.24 L156.0,707.26 L156.8,708.16 L157.6,708.91 L158.4,709.46 L159.2,709.80 L160.0,709.90 L160.8,709.76 L161.6,709.39 L162.4,708.81 L163.2,708.04 L164.0,707.11 L164.8,706.08 L165.6,704.99 L166.4,703.89 L167.2,702.83 L168.0,701.87 L168.8,701.04 L169.6,700.39 L170.4,699.94 L171.2,699.72 L172.0,699.74 L172.8,700.00 L173.6,700.48 L174.4,701.16 L175.2,702.01 L176.0,702.99 L176.8,704.06 L177.6,705.16 L178.4,706.25 L179.2,707.27 L180.0,708.17 L180.8,708.91 L181.6,709.47 L182.4,709.80 L183.2,709.90 L184.0,709.76 L184.8,709.39 L185.6,708.80 L186.4,708.03 L187.2,707.11 L188.0,706.07 L188.8,704.98 L189.6,703.88 L190.4,702.83 L191.2,701.86 L192.0,701.03 L192.8,700.38 L193.6,699.94 L194.4,699.72 L195.2,699.74 L196.0,700.00 L196.8,700.48 L197.6,701.16 L198.4,702.02 L199.2,703.00 L200.0,704.07 L200.8,705.17 L201.6,706.26 L202.4,707.28 L203.2,708.18 L204.0,708.92 L204.8,709.47 L205.6,709.80 L206.4,709.90 L207.2,709.76 L208.0,709.39 L208.8,708.80 L209.6,708.02 L210.4,707.10 L211.2,706.07" fill="none" stroke="#111" stroke-width="1.3" stroke-linecap="round" stroke-linejoin="round"/>
<path d="M50.3,706.64 L51.1,707.62 L51.9,708.47 L52.7,709.15 L53.5,709.62 L54.3,709.86 L55.1,709.87 L55.9,709.65 L56.7,709.19 L57.5,708.53 L58.3,707.70 L59.1,706.73 L59.9,705.67 L60.7,704.57 L61.5,703.48 L62.3,702.45 L63.1,701.53 L63.9,700.77 L64.7,700.19 L65.5,699.83 L66.3,699.70 L67.1,699.81 L67.9,700.15 L68.7,700.72 L69.5,701.47 L70.3,702.38 L71.1,703.40 L71.9,704.49 L72.7,705.59 L73.5,706.65 L74.3,707.63 L75.1,708.48 L75.9,709.15 L76.7,709.62 L77.5,709.87 L78.3,709.87 L79.1,709.64 L79.9,709.19 L80.7,708.53 L81.5,707.69 L82.3,706.72 L83.1,705.66 L83.9,704.56 L84.7,703.47 L85.5,702.44 L86.3,701.52 L87.1,700.76 L87.9,700.18 L88.7,699.83 L89.5,699.70 L90.3,699.81 L91.1,700.16 L91.9,700.72 L92.7,701.48 L93.5,702.38 L94.3,703.41 L95.1,704.49 L95.9,705.60 L96.7,706.66 L97.5,707.64 L98.3,708.48 L99.1,709.16 L99.9,709.62 L100.7,709.87 L101.5,709.87 L102.3,709.64 L103.1,709.18 L103.9,708.52 L104.7,707.68 L105.5,706.71 L106.3,705.65 L107.1,704.55 L107.9,703.46 L108.7,702.43 L109.5,701.52 L110.3,700.75 L111.1,700.18 L111.9,699.82 L112.7,699.70 L113.5,699.81 L114.3,700.16 L115.1,700.73 L115.9,701.48 L116.7,702.39 L117.5,703.42 L118.3,704.50 L119.1,705.61 L119.9,706.67 L120.7,707.65 L121.5,708.49 L122.3,709.16 L123.1,709.63 L123.9,709.87 L124.7,709.87 L125.5,709.64 L126.3,709.18 L127.1,708.51 L127.9,707.68 L128.7,706.70 L129.5,705.64 L130.3,704.54 L131.1,703.45 L131.9,702.42 L132.7,701.51 L133.5,700.75 L134.3,700.18 L135.1,699.82 L135.9,699.70 L136.7,699.82 L137.5,700.17 L138.3,700.73 L139.1,701.49 L139.9,702.40 L140.7,703.43 L141.5,704.51 L142.3,705.61 L143.1,706.68 L143.9,707.65 L144.7,708.50 L145.5,709.17 L146.3,709.63 L147.1,709.87 L147.9,709.87 L148.7,709.64 L149.5,709.17 L150.3,708.51 L151.1,707.67 L151.9,706.69 L152.7,705.63 L153.5,704.53 L154.3,703.44 L155.1,702.42 L155.9,701.50 L156.7,700.74 L157.5,700.17 L158.3,699.82 L159.1,699.70 L159.9,699.82 L160.7,700.17 L161.5,700.74 L162.3,701.50 L163.1,702.41 L163.9,703.43 L164.7,704.52 L165.5,705.62 L166.3,706.69 L167.1,707.66 L167.9,708.50 L168.7,709.17 L169.5,709.63 L170.3,709.87 L171.1,709.87 L171.9,709.63 L172.7,709.17 L173.5,708.50 L174.3,707.66 L175.1,706.69 L175.9,705.62 L176.7,704.52 L177.5,703.43 L178.3,702.41 L179.1,701.49 L179.9,700.74 L180.7,700.17 L181.5,699.82 L182.3,699.70 L183.1,699.82 L183.9,700.17 L184.7,700.74 L185.5,701.50 L186.3,702.42 L187.1,703.44 L187.9,704.53 L188.7,705.63 L189.5,706.70 L190.3,707.67 L191.1,708.51 L191.9,709.17 L192.7,709.64 L193.5,709.87 L194.3,709.87 L195.1,709.63 L195.9,709.16 L196.7,708.49 L197.5,707.65 L198.3,706.68 L199.1,705.61 L199.9,704.51 L200.7,703.42 L201.5,702.40 L202.3,701.49 L203.1,700.73 L203.9,700.17 L204.7,699.82 L205.5,699.70 L206.3,699.82 L207.1,700.18 L207.9,700.75 L208.7,701.51 L209.5,702.43 L210.3,703.45 L211.1,704.54 L211.9,705.64 L212.7,706.70 L213.5,707.68 L214.3,708.52 L215.1,709.18 L215.9,709.64 L216.7,709.87 L217.5,709.87 L218.3,709.63 L219.1,709.16 L219.9,708.49 L220.7,707.64 L221.5,706.67" fill="none" stroke="#111" stroke-width="1.3" stroke-linecap="round" stroke-linejoin="round"/>
<path d="M221.3,644.5 L280.72,656.54" stroke="#223b73" stroke-width="2.7" fill="none" marker-end="url(#ah)"/>
<path d="M220,679.5 L280.73,663.50" stroke="#223b73" stroke-width="2.7" fill="none" marker-end="url(#ah)"/>
<ellipse cx="212.5" cy="628.1" rx="43.5" ry="15.4" fill="#96af56" stroke="#7f9848" stroke-width="1.0"/>
<text x="0.00" y="0.00" font-size="8.4" font-weight="normal" font-style="normal" text-anchor="start" fill="#fbfbee" transform="translate(196.30,632.30) scale(1.081,1)">C/EBPα</text>
<ellipse cx="226.3" cy="697.3" rx="43.5" ry="15.1" fill="#96af56" stroke="#7f9848" stroke-width="1.0"/>
<text x="0.00" y="0.00" font-size="8.4" font-weight="normal" font-style="normal" text-anchor="start" fill="#fbfbee" transform="translate(210.00,700.50) scale(1.081,1)">C/EBPα</text>
<defs><clipPath id="cl3"><polygon points="8.5,501.3 228.5,704.8 528.5,704.8 308.5,501.3"/></clipPath></defs>
<ellipse cx="124.3" cy="603.9" rx="36.3" ry="13.5" transform="rotate(-18.2 124.3 603.9)" fill="#c9d9a7"/>
<g clip-path="url(#cl3)"><ellipse cx="124.3" cy="603.9" rx="36.3" ry="13.5" transform="rotate(-18.2 124.3 603.9)" fill="#8c3030"/></g>
<ellipse cx="70.3" cy="607.7" rx="24.0" ry="15.7" fill="#dcdcc8" stroke="#9aa6b8" stroke-width="1.1"/>
<ellipse cx="154.8" cy="612.3" rx="24.0" ry="10.5" fill="#8d8b54"/>
<text x="0.00" y="0.00" font-size="8.8" font-weight="normal" font-style="normal" text-anchor="start" fill="#3c3c3c" transform="translate(61.60,612.30) scale(0.9349,1)">ETS</text>
<text x="0.00" y="0.00" font-size="7.0" font-weight="bold" font-style="normal" text-anchor="start" fill="#1d2a14" transform="translate(102.30,611.90) rotate(-17.6) scale(0.9579,1)">RUNX1-EVI1</text>
<text x="0.00" y="0.00" font-size="9.3" font-weight="normal" font-style="normal" text-anchor="start" fill="#1a1a1a" transform="translate(140.90,616.50) scale(0.9171,1)" stroke="#1a1a1a" stroke-width="0.2">GATA2</text>
<text x="0.00" y="0.00" font-size="10.6" font-weight="normal" font-style="normal" text-anchor="start" fill="#1a1a1a" transform="translate(52.90,641.70) scale(0.9168,1)">ETS</text>
<text x="0.00" y="0.00" font-size="10.6" font-weight="normal" font-style="normal" text-anchor="start" fill="#1a1a1a" transform="translate(98.90,641.70) scale(1.0354,1)">RUNX</text>
<text x="0.00" y="0.00" font-size="10.6" font-weight="normal" font-style="normal" text-anchor="start" fill="#1a1a1a" transform="translate(146.20,641.70) scale(1.0115,1)">GATA</text>
<defs><clipPath id="cl4"><polygon points="101.3,591.7 169.5,777.6 469.5,777.6 401.3,591.7"/></clipPath></defs>
<ellipse cx="132.7" cy="683.4" rx="36.5" ry="12.2" transform="rotate(-18.5 132.7 683.4)" fill="#c9d9a7"/>
<g clip-path="url(#cl4)"><ellipse cx="132.7" cy="683.4" rx="36.5" ry="12.2" transform="rotate(-18.5 132.7 683.4)" fill="#d2621f"/></g>
<ellipse cx="77.7" cy="680.8" rx="25.4" ry="17" fill="#dcdcc8" stroke="#9aa6b8" stroke-width="1.1"/>
<text x="0.00" y="0.00" font-size="6.4" font-weight="bold" font-style="normal" text-anchor="start" fill="#1d2a14" transform="translate(110.80,691.50) rotate(-19.2) scale(1.0172,1)">RUNX1-ETO</text>
<ellipse cx="116.9" cy="669.7" rx="24.6" ry="12" fill="#f3ccb1" stroke="#9aa6b8" stroke-width="1.1"/>
<ellipse cx="166.4" cy="690.9" rx="23.4" ry="10.3" fill="#4a76c0"/>
<text x="0.00" y="0.00" font-size="8.7" font-weight="normal" font-style="normal" text-anchor="start" fill="#3a3a2c" transform="translate(67.10,674.60) scale(0.9513,1)">PU.1</text>
<text x="0.00" y="0.00" font-size="8.7" font-weight="normal" font-style="normal" text-anchor="start" fill="#3a3a2c" transform="translate(67.10,684.50) scale(0.9844,1)">Fli1</text>
<text x="0.00" y="0.00" font-size="8.7" font-weight="normal" font-style="normal" text-anchor="start" fill="#3a3a2c" transform="translate(67.10,694.60) scale(1.0131,1)">ERG</text>
<text x="0.00" y="0.00" font-size="8.7" font-weight="normal" font-style="normal" text-anchor="start" fill="#222" transform="translate(103.10,668.50) scale(1.1017,1)">LMO2</text>
<text x="0.00" y="0.00" font-size="8.7" font-weight="normal" font-style="normal" text-anchor="start" fill="#222" transform="translate(103.70,678.60) scale(1.0339,1)">LDB1</text>
<text x="0.00" y="0.00" font-size="9.1" font-weight="normal" font-style="normal" text-anchor="start" fill="#1b3563" transform="translate(158.40,695.80) scale(0.9032,1)">HEB</text>
<text x="0.00" y="0.00" font-size="10.6" font-weight="normal" font-style="normal" text-anchor="start" fill="#1a1a1a" transform="translate(66.00,720.40) scale(0.9071,1)">ETS</text>
<text x="0.00" y="0.00" font-size="10.6" font-weight="normal" font-style="normal" text-anchor="start" fill="#1a1a1a" transform="translate(111.80,720.40) scale(1.0388,1)">RUNX</text>
<text x="0.00" y="0.00" font-size="10.6" font-weight="normal" font-style="normal" text-anchor="start" fill="#1a1a1a" transform="translate(158.80,720.40) scale(1.0047,1)">E-Box</text>
<text x="0.00" y="0.00" font-size="9.7" font-weight="normal" font-style="normal" text-anchor="start" fill="#31476f" transform="translate(41.40,757.10) scale(1.1668,1)">t(8;21) after C/EBPα-ER induction</text>
<rect x="282.4" y="583" width="82.5" height="26.9" fill="#d46c1d" stroke="#6a3a14" stroke-width="1.0"/>
<text x="0.00" y="0.00" font-size="6.9" font-weight="normal" font-style="normal" text-anchor="start" fill="#fdf3e6" transform="translate(296.20,588.70) scale(1.0755,1)">Stem cell genes</text>
<text x="0.00" y="0.00" font-size="6.9" font-weight="normal" font-style="italic" text-anchor="start" fill="#fdf3e6" transform="translate(295.10,598.40) scale(1.0892,1)">i.e.GATA2, ERG,</text>
<text x="0.00" y="0.00" font-size="6.9" font-weight="normal" font-style="italic" text-anchor="start" fill="#fdf3e6" transform="translate(296.20,607.30) scale(1.1015,1)">MEIS1, HOXA9</text>
<rect x="282.3" y="649.4" width="82.3" height="26.9" fill="#4271c0" stroke="#2c4880" stroke-width="1.0"/>
<text x="0.00" y="0.00" font-size="6.9" font-weight="normal" font-style="italic" text-anchor="start" fill="#fdf3e6" transform="translate(309.70,660.20) scale(1.1451,1)">CEBPA</text>
<text x="0.00" y="0.00" font-size="6.9" font-weight="normal" font-style="normal" text-anchor="start" fill="#fdf3e6" transform="translate(289.50,669.60) scale(1.0607,1)">Differentiation genes</text>
<rect x="282.4" y="713.2" width="82.5" height="26.8" fill="#d46c1d" stroke="#6a3a14" stroke-width="1.0"/>
<text x="0.00" y="0.00" font-size="6.9" font-weight="normal" font-style="italic" text-anchor="start" fill="#fdf3e6" transform="translate(296.20,719.80) scale(1.0755,1)">Stem cell genes</text>
<text x="0.00" y="0.00" font-size="6.9" font-weight="normal" font-style="italic" text-anchor="start" fill="#fdf3e6" transform="translate(295.10,729.00) scale(1.0795,1)">i.e.GATA2, ERG,</text>
<text x="0.00" y="0.00" font-size="6.9" font-weight="normal" font-style="italic" text-anchor="start" fill="#fdf3e6" transform="translate(309.90,737.90) scale(1.086,1)">RUNX1</text>
<defs><marker id="ah2" viewBox="0 0 10 10" refX="9" refY="5" markerUnits="userSpaceOnUse" markerWidth="9.5" markerHeight="9.5" orient="auto"><path d="M0,0.3 L10,5 L0,9.7 L1.6,5 Z" fill="#223b73"/></marker></defs>
<path d="M362.6,649.8 C357,641 347,633.3 334,632.4 C322,631.7 306,639.5 288.0,646.4" stroke="#223b73" stroke-width="2.8" fill="none" marker-end="url(#ah2)"/>
<path d="M371.3,679.6 C363,688 350,695.8 330,697 C315,697.6 300,689.5 286.2,683.2" stroke="#223b73" stroke-width="2.8" fill="none" marker-end="url(#ah2)"/>
<path d="M437.3,639 C447,633 455.5,625.5 458.2,618.5 C460.5,611.5 452,609 440,606.2 C432,604.5 424,603.3 420,602.7 L376.6,596.6" stroke="#bd1f27" stroke-width="2.8" fill="none" stroke-linejoin="round"/>
<path d="M375.47,602.54 L377.13,590.66" stroke="#bd1f27" stroke-width="3.1" fill="none"/>
<path d="M444.8,688.7 C451,693.5 456,699 458.3,704.5 C461,712 455,716 448.8,718.1 C441,720.7 430,723.5 420,725.6 L376.6,733.7" stroke="#bd1f27" stroke-width="2.8" fill="none" stroke-linejoin="round"/>
<path d="M377.39,739.60 L375.21,727.80" stroke="#bd1f27" stroke-width="3.1" fill="none"/>
<ellipse cx="404.2" cy="648.3" rx="39.5" ry="13.6" fill="#96af56" stroke="#7f9848" stroke-width="1.0"/>
<text x="0.00" y="0.00" font-size="8.4" font-weight="normal" font-style="normal" text-anchor="start" fill="#fbfbee" transform="translate(392.00,653.40) scale(1.1276,1)">C/EBPα</text>
<ellipse cx="410.5" cy="680.3" rx="39.5" ry="13.4" fill="#96af56" stroke="#7f9848" stroke-width="1.0"/>
<text x="0.00" y="0.00" font-size="8.4" font-weight="normal" font-style="normal" text-anchor="start" fill="#fbfbee" transform="translate(392.00,685.20) scale(1.091,1)">C/EBPα</text>
<path d="M0,0H520V769H0Z M1.55,1.1V767.25H518.35V1.1Z" fill="#000" fill-rule="evenodd"/>
</svg></body></html>
